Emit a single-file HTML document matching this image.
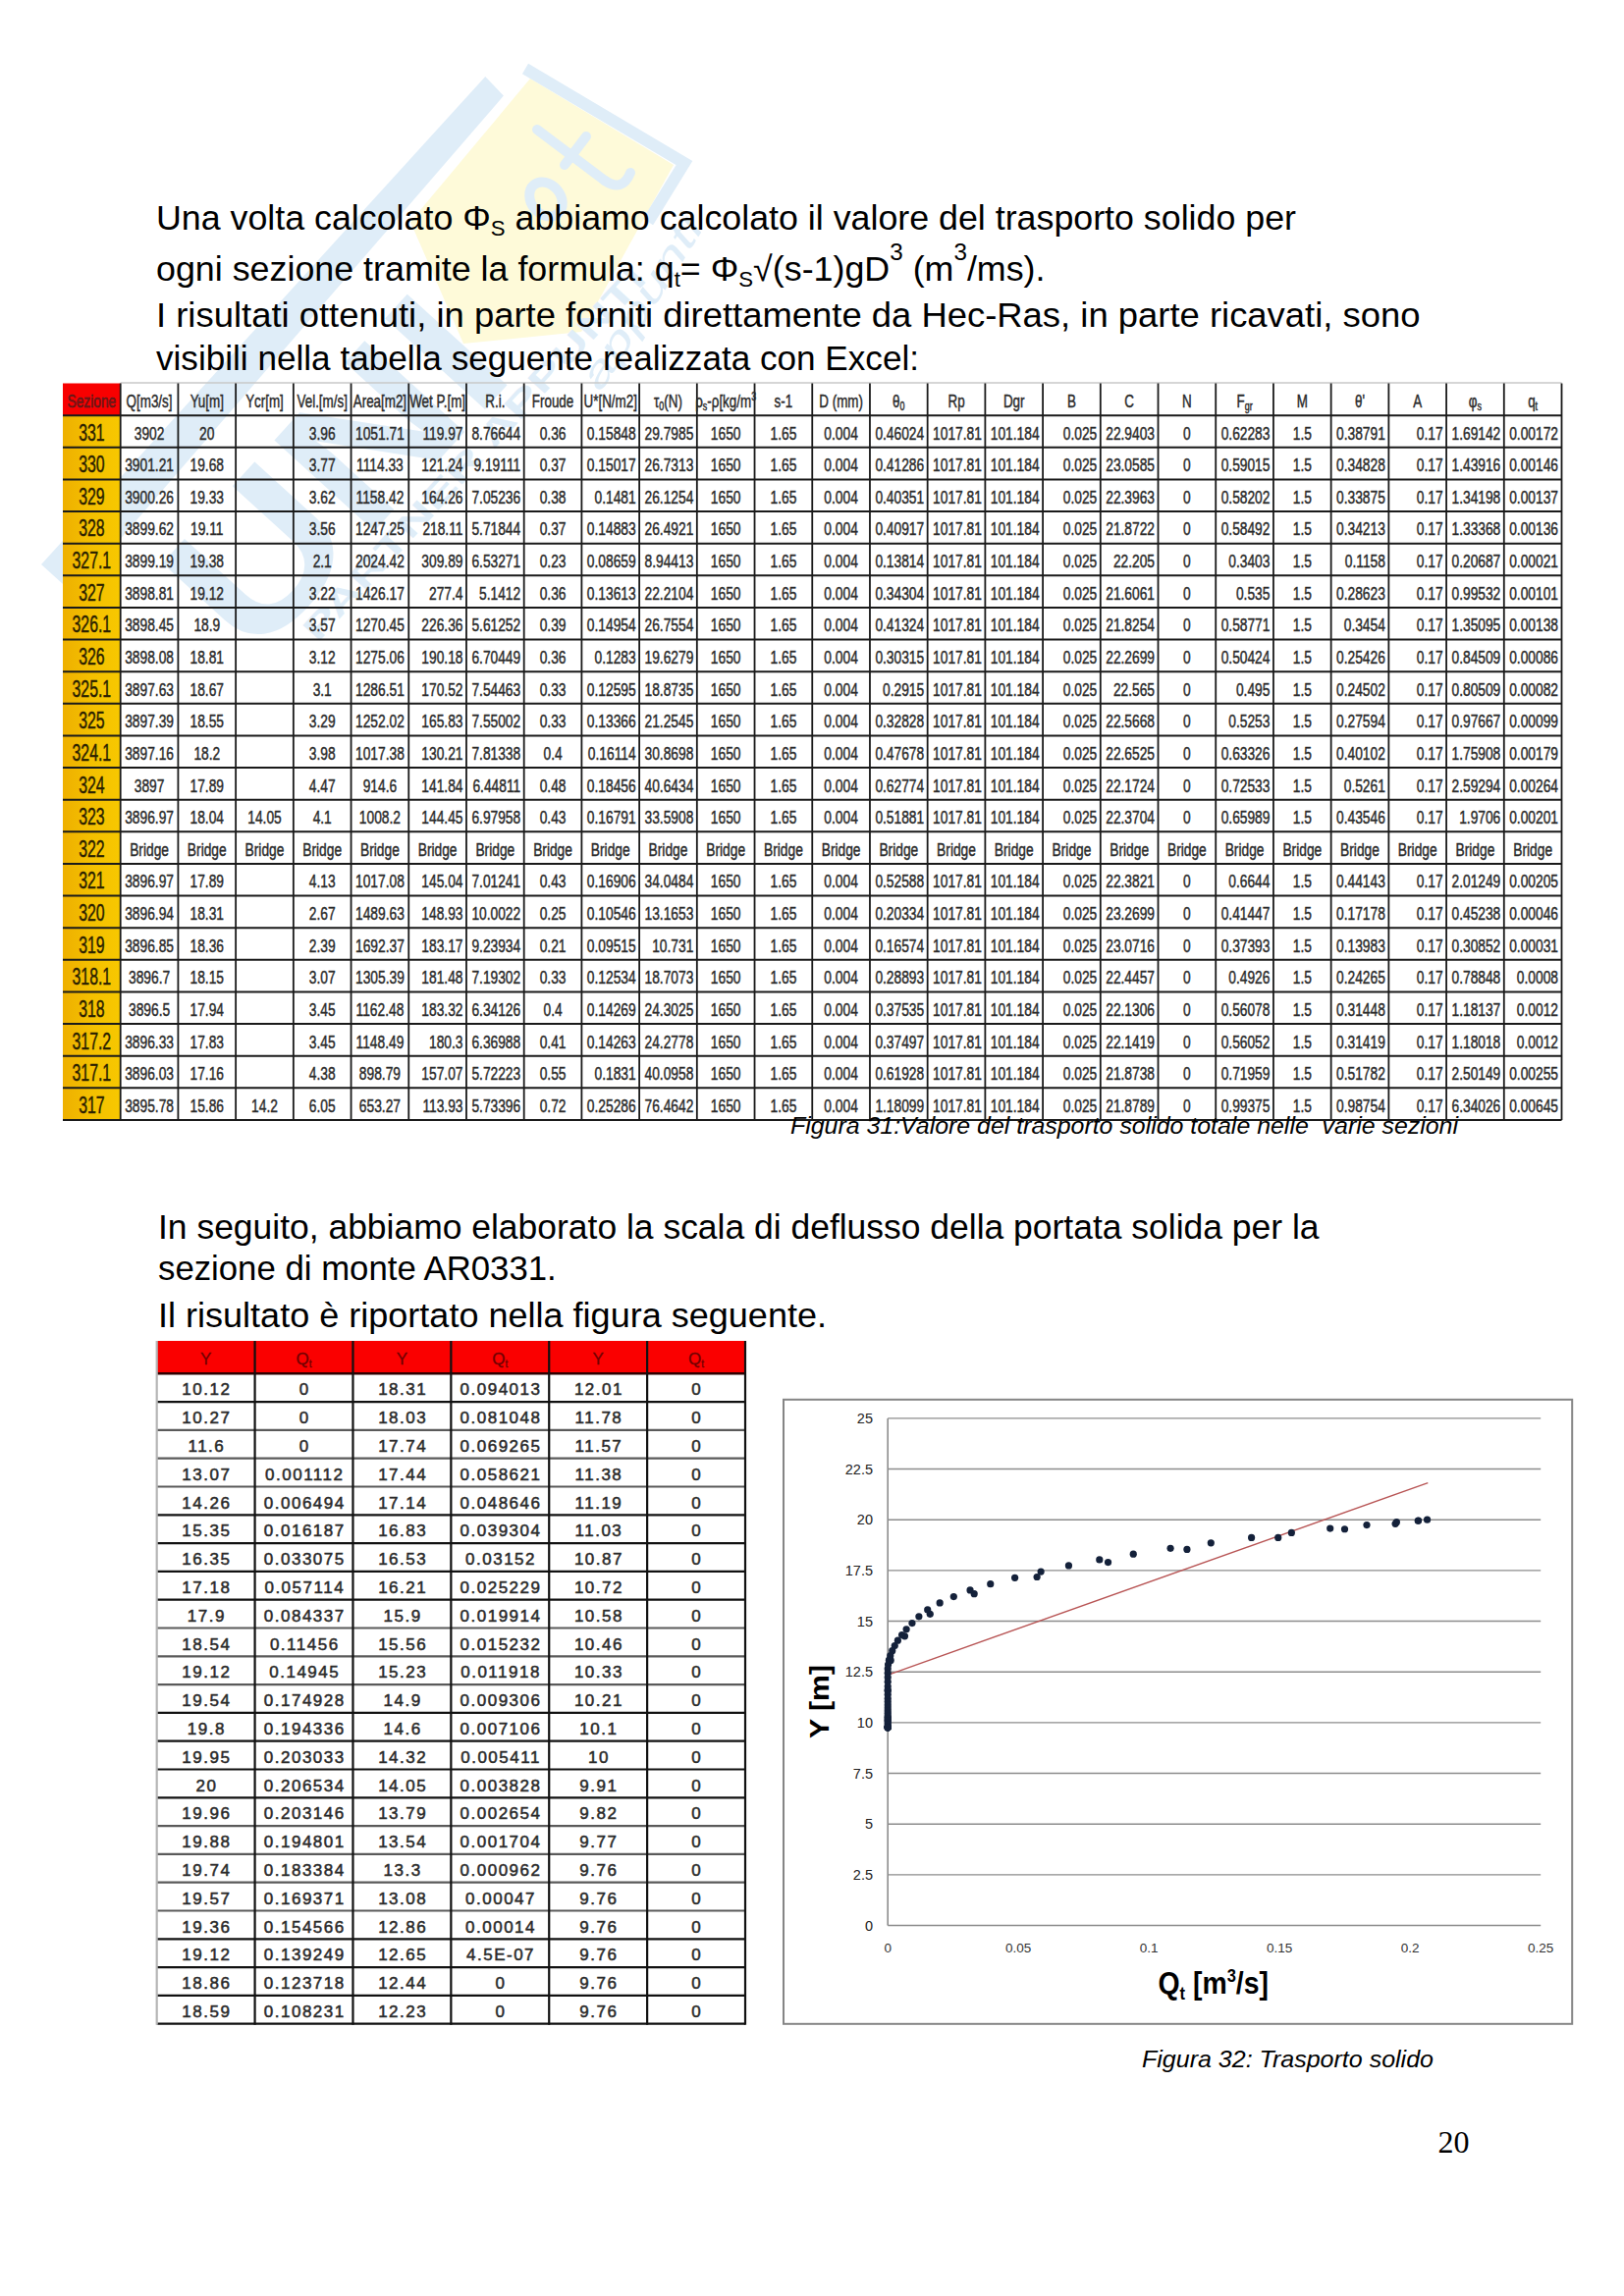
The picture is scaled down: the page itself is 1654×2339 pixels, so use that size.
<!DOCTYPE html><html><head><meta charset="utf-8"><title>page 20</title><style>html,body{margin:0;padding:0;background:#fff;}body{width:1654px;height:2339px;overflow:hidden}svg{display:block}</style></head><body>
<svg width="1654" height="2339" viewBox="0 0 1654 2339" font-family="'Liberation Sans', sans-serif">
<rect width="1654" height="2339" fill="#fff"/>
<g id="wm">
<polygon points="540,80 686,168 592,338 472,350 418,226" fill="#fefad9"/>
<polyline points="535,70 697,166 660,226" fill="none" stroke="#dfedf8" stroke-width="12" stroke-linejoin="miter"/>
<g transform="translate(42,575) rotate(-47.7)">
<polygon points="0,0 672,0 670,27 0,44" fill="#dfedf8"/>
<text x="70" y="228" font-size="200" font-weight="bold" fill="#dfedf8" font-family="'Liberation Sans', sans-serif" textLength="400" lengthAdjust="spacingAndGlyphs">UNI</text>
<text x="130" y="262" font-size="34" font-weight="bold" fill="#dfedf8" font-family="'Liberation Sans', sans-serif" textLength="500" lengthAdjust="spacingAndGlyphs">PARTNER APPUNTI</text>
</g>
<g fill="none" stroke="#dfedf8" stroke-width="10" stroke-linecap="round">
<line x1="547" y1="132" x2="616" y2="184"/>
<line x1="575" y1="168" x2="597" y2="139"/>
<path d="M616,184 Q634,196 642,176"/>
<ellipse cx="556" cy="203" rx="15" ry="19" transform="rotate(-40 556 203)"/>
</g>
<text transform="translate(612,400) rotate(-58)" font-size="40" font-style="italic" fill="#dfedf8" font-family="'Liberation Sans', sans-serif" textLength="200" lengthAdjust="spacingAndGlyphs">appunti</text>
</g>
<g fill="#000" font-family="'Liberation Sans', sans-serif">
<text x="159" y="233.9" font-size="35.5" textLength="1161" lengthAdjust="spacingAndGlyphs" >Una volta calcolato Φ<tspan font-size="22" dy="6">S</tspan><tspan dy="-6"> abbiamo calcolato il valore del trasporto solido per</tspan></text>
<text x="159" y="285.6" font-size="35.5" textLength="905.5" lengthAdjust="spacingAndGlyphs" >ogni sezione tramite la formula: q<tspan font-size="22" dy="6">t</tspan><tspan dy="-6">= Φ</tspan><tspan font-size="22" dy="6">S</tspan><tspan dy="-6">√(s-1)gD</tspan><tspan font-size="24" dy="-21">3</tspan><tspan dy="21">  (m</tspan><tspan font-size="24" dy="-21">3</tspan><tspan dy="21">/ms).</tspan></text>
<text x="159" y="332.9" font-size="35.5" textLength="1287.5" lengthAdjust="spacingAndGlyphs" >I risultati ottenuti, in parte forniti direttamente da Hec-Ras, in parte ricavati, sono</text>
<text x="159" y="376.7" font-size="35.5" textLength="777" lengthAdjust="spacingAndGlyphs" >visibili nella tabella seguente realizzata con Excel:</text>
<text x="161" y="1261.5" font-size="35.5" textLength="1182.5" lengthAdjust="spacingAndGlyphs" >In seguito, abbiamo elaborato la scala di deflusso della portata solida per la</text>
<text x="161" y="1304.4" font-size="35.5" textLength="405.70000000000005" lengthAdjust="spacingAndGlyphs" >sezione di monte AR0331.</text>
<text x="161" y="1351.5" font-size="35.5" textLength="681" lengthAdjust="spacingAndGlyphs" >Il risultato è riportato nella figura seguente.</text>
</g>
<g id="bigtable">
<defs><linearGradient id="yel" x1="0" y1="0" x2="1" y2="0"><stop offset="0" stop-color="#eeb000"/><stop offset="0.5" stop-color="#f4c000"/><stop offset="1" stop-color="#f7c800"/></linearGradient></defs>
<rect x="64.0" y="423.1304347826087" width="58.71153846153846" height="717.8695652173913" fill="url(#yel)"/>
<rect x="64.0" y="390.5" width="58.71153846153846" height="32.630434782608695" fill="#f80000"/>
<line x1="122.71153846153845" y1="390.0" x2="1590.5" y2="390.0" stroke="#c8c8c8" stroke-width="1.5"/>
<line x1="64.0" y1="423.13" x2="1590.5" y2="423.13" stroke="#1a1a1a" stroke-width="2"/>
<line x1="64.0" y1="455.76" x2="1590.5" y2="455.76" stroke="#1a1a1a" stroke-width="2"/>
<line x1="64.0" y1="488.39" x2="1590.5" y2="488.39" stroke="#1a1a1a" stroke-width="2"/>
<line x1="64.0" y1="521.02" x2="1590.5" y2="521.02" stroke="#1a1a1a" stroke-width="2"/>
<line x1="64.0" y1="553.65" x2="1590.5" y2="553.65" stroke="#1a1a1a" stroke-width="2"/>
<line x1="64.0" y1="586.28" x2="1590.5" y2="586.28" stroke="#1a1a1a" stroke-width="2"/>
<line x1="64.0" y1="618.91" x2="1590.5" y2="618.91" stroke="#1a1a1a" stroke-width="2"/>
<line x1="64.0" y1="651.54" x2="1590.5" y2="651.54" stroke="#1a1a1a" stroke-width="2"/>
<line x1="64.0" y1="684.17" x2="1590.5" y2="684.17" stroke="#1a1a1a" stroke-width="2"/>
<line x1="64.0" y1="716.80" x2="1590.5" y2="716.80" stroke="#1a1a1a" stroke-width="2"/>
<line x1="64.0" y1="749.43" x2="1590.5" y2="749.43" stroke="#1a1a1a" stroke-width="2"/>
<line x1="64.0" y1="782.07" x2="1590.5" y2="782.07" stroke="#1a1a1a" stroke-width="2"/>
<line x1="64.0" y1="814.70" x2="1590.5" y2="814.70" stroke="#1a1a1a" stroke-width="2"/>
<line x1="64.0" y1="847.33" x2="1590.5" y2="847.33" stroke="#1a1a1a" stroke-width="2"/>
<line x1="64.0" y1="879.96" x2="1590.5" y2="879.96" stroke="#1a1a1a" stroke-width="2"/>
<line x1="64.0" y1="912.59" x2="1590.5" y2="912.59" stroke="#1a1a1a" stroke-width="2"/>
<line x1="64.0" y1="945.22" x2="1590.5" y2="945.22" stroke="#1a1a1a" stroke-width="2"/>
<line x1="64.0" y1="977.85" x2="1590.5" y2="977.85" stroke="#1a1a1a" stroke-width="2"/>
<line x1="64.0" y1="1010.48" x2="1590.5" y2="1010.48" stroke="#1a1a1a" stroke-width="2"/>
<line x1="64.0" y1="1043.11" x2="1590.5" y2="1043.11" stroke="#1a1a1a" stroke-width="2"/>
<line x1="64.0" y1="1075.74" x2="1590.5" y2="1075.74" stroke="#1a1a1a" stroke-width="2"/>
<line x1="64.0" y1="1108.37" x2="1590.5" y2="1108.37" stroke="#1a1a1a" stroke-width="2"/>
<line x1="64.0" y1="1141.00" x2="1590.5" y2="1141.00" stroke="#1a1a1a" stroke-width="2"/>
<line x1="122.71" y1="390.5" x2="122.71" y2="1141.0" stroke="#1a1a1a" stroke-width="1.8"/>
<line x1="181.42" y1="390.5" x2="181.42" y2="1141.0" stroke="#1a1a1a" stroke-width="1.8"/>
<line x1="240.13" y1="390.5" x2="240.13" y2="1141.0" stroke="#1a1a1a" stroke-width="1.8"/>
<line x1="298.85" y1="390.5" x2="298.85" y2="1141.0" stroke="#1a1a1a" stroke-width="1.8"/>
<line x1="357.56" y1="390.5" x2="357.56" y2="1141.0" stroke="#1a1a1a" stroke-width="1.8"/>
<line x1="416.27" y1="390.5" x2="416.27" y2="1141.0" stroke="#1a1a1a" stroke-width="1.8"/>
<line x1="474.98" y1="390.5" x2="474.98" y2="1141.0" stroke="#1a1a1a" stroke-width="1.8"/>
<line x1="533.69" y1="390.5" x2="533.69" y2="1141.0" stroke="#1a1a1a" stroke-width="1.8"/>
<line x1="592.40" y1="390.5" x2="592.40" y2="1141.0" stroke="#1a1a1a" stroke-width="1.8"/>
<line x1="651.12" y1="390.5" x2="651.12" y2="1141.0" stroke="#1a1a1a" stroke-width="1.8"/>
<line x1="709.83" y1="390.5" x2="709.83" y2="1141.0" stroke="#1a1a1a" stroke-width="1.8"/>
<line x1="768.54" y1="390.5" x2="768.54" y2="1141.0" stroke="#1a1a1a" stroke-width="1.8"/>
<line x1="827.25" y1="390.5" x2="827.25" y2="1141.0" stroke="#1a1a1a" stroke-width="1.8"/>
<line x1="885.96" y1="390.5" x2="885.96" y2="1141.0" stroke="#1a1a1a" stroke-width="1.8"/>
<line x1="944.67" y1="390.5" x2="944.67" y2="1141.0" stroke="#1a1a1a" stroke-width="1.8"/>
<line x1="1003.38" y1="390.5" x2="1003.38" y2="1141.0" stroke="#1a1a1a" stroke-width="1.8"/>
<line x1="1062.10" y1="390.5" x2="1062.10" y2="1141.0" stroke="#1a1a1a" stroke-width="1.8"/>
<line x1="1120.81" y1="390.5" x2="1120.81" y2="1141.0" stroke="#1a1a1a" stroke-width="1.8"/>
<line x1="1179.52" y1="390.5" x2="1179.52" y2="1141.0" stroke="#1a1a1a" stroke-width="1.8"/>
<line x1="1238.23" y1="390.5" x2="1238.23" y2="1141.0" stroke="#1a1a1a" stroke-width="1.8"/>
<line x1="1296.94" y1="390.5" x2="1296.94" y2="1141.0" stroke="#1a1a1a" stroke-width="1.8"/>
<line x1="1355.65" y1="390.5" x2="1355.65" y2="1141.0" stroke="#1a1a1a" stroke-width="1.8"/>
<line x1="1414.37" y1="390.5" x2="1414.37" y2="1141.0" stroke="#1a1a1a" stroke-width="1.8"/>
<line x1="1473.08" y1="390.5" x2="1473.08" y2="1141.0" stroke="#1a1a1a" stroke-width="1.8"/>
<line x1="1531.79" y1="390.5" x2="1531.79" y2="1141.0" stroke="#1a1a1a" stroke-width="1.8"/>
<line x1="1590.50" y1="390.5" x2="1590.50" y2="1141.0" stroke="#1a1a1a" stroke-width="1.8"/>
<g font-family="'Liberation Sans', sans-serif" fill="#2b2b2b" stroke="#2b2b2b" stroke-width="0.45" transform="scale(0.745,1)">
<text x="125.31" y="414.98" font-size="18.5" text-anchor="middle" fill="#8a0a0a">Sezione</text>
<text x="204.12" y="414.80" font-size="18" text-anchor="middle">Q[m3/s]</text>
<text x="282.92" y="414.80" font-size="18" text-anchor="middle">Yu[m]</text>
<text x="361.73" y="414.80" font-size="18" text-anchor="middle">Ycr[m]</text>
<text x="440.54" y="414.80" font-size="18" text-anchor="middle">Vel.[m/s]</text>
<text x="519.35" y="414.80" font-size="18" text-anchor="middle">Area[m2]</text>
<text x="598.15" y="414.80" font-size="18" text-anchor="middle">Wet P.[m]</text>
<text x="676.96" y="414.80" font-size="18" text-anchor="middle">R.i.</text>
<text x="755.77" y="414.80" font-size="18" text-anchor="middle">Froude</text>
<text x="834.58" y="414.80" font-size="18" text-anchor="middle">U*[N/m2]</text>
<text x="913.38" y="414.80" font-size="18" text-anchor="middle">τ<tspan font-size="12" dy="3">0</tspan><tspan dy="-3">(N)</tspan></text>
<text x="992.19" y="414.80" font-size="18" text-anchor="middle">ρ<tspan font-size="12" dy="3">s</tspan><tspan dy="-3">-ρ[kg/m</tspan><tspan font-size="12" dy="-7">3</tspan></text>
<text x="1071.00" y="414.80" font-size="18" text-anchor="middle">s-1</text>
<text x="1149.81" y="414.80" font-size="18" text-anchor="middle">D (mm)</text>
<text x="1228.61" y="414.80" font-size="18" text-anchor="middle">θ<tspan font-size="12" dy="3">0</tspan></text>
<text x="1307.42" y="414.80" font-size="18" text-anchor="middle">Rp</text>
<text x="1386.23" y="414.80" font-size="18" text-anchor="middle">Dgr</text>
<text x="1465.04" y="414.80" font-size="18" text-anchor="middle">B</text>
<text x="1543.84" y="414.80" font-size="18" text-anchor="middle">C</text>
<text x="1622.65" y="414.80" font-size="18" text-anchor="middle">N</text>
<text x="1701.46" y="414.80" font-size="18" text-anchor="middle">F<tspan font-size="12" dy="3">gr</tspan></text>
<text x="1780.27" y="414.80" font-size="18" text-anchor="middle">M</text>
<text x="1859.07" y="414.80" font-size="18" text-anchor="middle">θ'</text>
<text x="1937.88" y="414.80" font-size="18" text-anchor="middle">A</text>
<text x="2016.69" y="414.80" font-size="18" text-anchor="middle">φ<tspan font-size="12" dy="3">s</tspan></text>
<text x="2095.50" y="414.80" font-size="18" text-anchor="middle">q<tspan font-size="12" dy="3">t</tspan></text>
<text x="204.12" y="447.61" font-size="18.5" text-anchor="middle">3902</text>
<text x="282.92" y="447.61" font-size="18.5" text-anchor="middle">20</text>
<text x="440.54" y="447.61" font-size="18.5" text-anchor="middle">3.96</text>
<text x="519.35" y="447.61" font-size="18.5" text-anchor="middle">1051.71</text>
<text x="632.86" y="447.61" font-size="18.5" text-anchor="end">119.97</text>
<text x="711.67" y="447.61" font-size="18.5" text-anchor="end">8.76644</text>
<text x="755.77" y="447.61" font-size="18.5" text-anchor="middle">0.36</text>
<text x="869.28" y="447.61" font-size="18.5" text-anchor="end">0.15848</text>
<text x="948.09" y="447.61" font-size="18.5" text-anchor="end">29.7985</text>
<text x="992.19" y="447.61" font-size="18.5" text-anchor="middle">1650</text>
<text x="1071.00" y="447.61" font-size="18.5" text-anchor="middle">1.65</text>
<text x="1149.81" y="447.61" font-size="18.5" text-anchor="middle">0.004</text>
<text x="1263.32" y="447.61" font-size="18.5" text-anchor="end">0.46024</text>
<text x="1342.13" y="447.61" font-size="18.5" text-anchor="end">1017.81</text>
<text x="1420.93" y="447.61" font-size="18.5" text-anchor="end">101.184</text>
<text x="1499.74" y="447.61" font-size="18.5" text-anchor="end">0.025</text>
<text x="1578.55" y="447.61" font-size="18.5" text-anchor="end">22.9403</text>
<text x="1622.65" y="447.61" font-size="18.5" text-anchor="middle">0</text>
<text x="1736.16" y="447.61" font-size="18.5" text-anchor="end">0.62283</text>
<text x="1780.27" y="447.61" font-size="18.5" text-anchor="middle">1.5</text>
<text x="1893.78" y="447.61" font-size="18.5" text-anchor="end">0.38791</text>
<text x="1972.59" y="447.61" font-size="18.5" text-anchor="end">0.17</text>
<text x="2051.39" y="447.61" font-size="18.5" text-anchor="end">1.69142</text>
<text x="2130.20" y="447.61" font-size="18.5" text-anchor="end">0.00172</text>
<text x="204.12" y="480.24" font-size="18.5" text-anchor="middle">3901.21</text>
<text x="282.92" y="480.24" font-size="18.5" text-anchor="middle">19.68</text>
<text x="440.54" y="480.24" font-size="18.5" text-anchor="middle">3.77</text>
<text x="519.35" y="480.24" font-size="18.5" text-anchor="middle">1114.33</text>
<text x="632.86" y="480.24" font-size="18.5" text-anchor="end">121.24</text>
<text x="711.67" y="480.24" font-size="18.5" text-anchor="end">9.19111</text>
<text x="755.77" y="480.24" font-size="18.5" text-anchor="middle">0.37</text>
<text x="869.28" y="480.24" font-size="18.5" text-anchor="end">0.15017</text>
<text x="948.09" y="480.24" font-size="18.5" text-anchor="end">26.7313</text>
<text x="992.19" y="480.24" font-size="18.5" text-anchor="middle">1650</text>
<text x="1071.00" y="480.24" font-size="18.5" text-anchor="middle">1.65</text>
<text x="1149.81" y="480.24" font-size="18.5" text-anchor="middle">0.004</text>
<text x="1263.32" y="480.24" font-size="18.5" text-anchor="end">0.41286</text>
<text x="1342.13" y="480.24" font-size="18.5" text-anchor="end">1017.81</text>
<text x="1420.93" y="480.24" font-size="18.5" text-anchor="end">101.184</text>
<text x="1499.74" y="480.24" font-size="18.5" text-anchor="end">0.025</text>
<text x="1578.55" y="480.24" font-size="18.5" text-anchor="end">23.0585</text>
<text x="1622.65" y="480.24" font-size="18.5" text-anchor="middle">0</text>
<text x="1736.16" y="480.24" font-size="18.5" text-anchor="end">0.59015</text>
<text x="1780.27" y="480.24" font-size="18.5" text-anchor="middle">1.5</text>
<text x="1893.78" y="480.24" font-size="18.5" text-anchor="end">0.34828</text>
<text x="1972.59" y="480.24" font-size="18.5" text-anchor="end">0.17</text>
<text x="2051.39" y="480.24" font-size="18.5" text-anchor="end">1.43916</text>
<text x="2130.20" y="480.24" font-size="18.5" text-anchor="end">0.00146</text>
<text x="204.12" y="512.87" font-size="18.5" text-anchor="middle">3900.26</text>
<text x="282.92" y="512.87" font-size="18.5" text-anchor="middle">19.33</text>
<text x="440.54" y="512.87" font-size="18.5" text-anchor="middle">3.62</text>
<text x="519.35" y="512.87" font-size="18.5" text-anchor="middle">1158.42</text>
<text x="632.86" y="512.87" font-size="18.5" text-anchor="end">164.26</text>
<text x="711.67" y="512.87" font-size="18.5" text-anchor="end">7.05236</text>
<text x="755.77" y="512.87" font-size="18.5" text-anchor="middle">0.38</text>
<text x="869.28" y="512.87" font-size="18.5" text-anchor="end">0.1481</text>
<text x="948.09" y="512.87" font-size="18.5" text-anchor="end">26.1254</text>
<text x="992.19" y="512.87" font-size="18.5" text-anchor="middle">1650</text>
<text x="1071.00" y="512.87" font-size="18.5" text-anchor="middle">1.65</text>
<text x="1149.81" y="512.87" font-size="18.5" text-anchor="middle">0.004</text>
<text x="1263.32" y="512.87" font-size="18.5" text-anchor="end">0.40351</text>
<text x="1342.13" y="512.87" font-size="18.5" text-anchor="end">1017.81</text>
<text x="1420.93" y="512.87" font-size="18.5" text-anchor="end">101.184</text>
<text x="1499.74" y="512.87" font-size="18.5" text-anchor="end">0.025</text>
<text x="1578.55" y="512.87" font-size="18.5" text-anchor="end">22.3963</text>
<text x="1622.65" y="512.87" font-size="18.5" text-anchor="middle">0</text>
<text x="1736.16" y="512.87" font-size="18.5" text-anchor="end">0.58202</text>
<text x="1780.27" y="512.87" font-size="18.5" text-anchor="middle">1.5</text>
<text x="1893.78" y="512.87" font-size="18.5" text-anchor="end">0.33875</text>
<text x="1972.59" y="512.87" font-size="18.5" text-anchor="end">0.17</text>
<text x="2051.39" y="512.87" font-size="18.5" text-anchor="end">1.34198</text>
<text x="2130.20" y="512.87" font-size="18.5" text-anchor="end">0.00137</text>
<text x="204.12" y="545.50" font-size="18.5" text-anchor="middle">3899.62</text>
<text x="282.92" y="545.50" font-size="18.5" text-anchor="middle">19.11</text>
<text x="440.54" y="545.50" font-size="18.5" text-anchor="middle">3.56</text>
<text x="519.35" y="545.50" font-size="18.5" text-anchor="middle">1247.25</text>
<text x="632.86" y="545.50" font-size="18.5" text-anchor="end">218.11</text>
<text x="711.67" y="545.50" font-size="18.5" text-anchor="end">5.71844</text>
<text x="755.77" y="545.50" font-size="18.5" text-anchor="middle">0.37</text>
<text x="869.28" y="545.50" font-size="18.5" text-anchor="end">0.14883</text>
<text x="948.09" y="545.50" font-size="18.5" text-anchor="end">26.4921</text>
<text x="992.19" y="545.50" font-size="18.5" text-anchor="middle">1650</text>
<text x="1071.00" y="545.50" font-size="18.5" text-anchor="middle">1.65</text>
<text x="1149.81" y="545.50" font-size="18.5" text-anchor="middle">0.004</text>
<text x="1263.32" y="545.50" font-size="18.5" text-anchor="end">0.40917</text>
<text x="1342.13" y="545.50" font-size="18.5" text-anchor="end">1017.81</text>
<text x="1420.93" y="545.50" font-size="18.5" text-anchor="end">101.184</text>
<text x="1499.74" y="545.50" font-size="18.5" text-anchor="end">0.025</text>
<text x="1578.55" y="545.50" font-size="18.5" text-anchor="end">21.8722</text>
<text x="1622.65" y="545.50" font-size="18.5" text-anchor="middle">0</text>
<text x="1736.16" y="545.50" font-size="18.5" text-anchor="end">0.58492</text>
<text x="1780.27" y="545.50" font-size="18.5" text-anchor="middle">1.5</text>
<text x="1893.78" y="545.50" font-size="18.5" text-anchor="end">0.34213</text>
<text x="1972.59" y="545.50" font-size="18.5" text-anchor="end">0.17</text>
<text x="2051.39" y="545.50" font-size="18.5" text-anchor="end">1.33368</text>
<text x="2130.20" y="545.50" font-size="18.5" text-anchor="end">0.00136</text>
<text x="204.12" y="578.13" font-size="18.5" text-anchor="middle">3899.19</text>
<text x="282.92" y="578.13" font-size="18.5" text-anchor="middle">19.38</text>
<text x="440.54" y="578.13" font-size="18.5" text-anchor="middle">2.1</text>
<text x="519.35" y="578.13" font-size="18.5" text-anchor="middle">2024.42</text>
<text x="632.86" y="578.13" font-size="18.5" text-anchor="end">309.89</text>
<text x="711.67" y="578.13" font-size="18.5" text-anchor="end">6.53271</text>
<text x="755.77" y="578.13" font-size="18.5" text-anchor="middle">0.23</text>
<text x="869.28" y="578.13" font-size="18.5" text-anchor="end">0.08659</text>
<text x="948.09" y="578.13" font-size="18.5" text-anchor="end">8.94413</text>
<text x="992.19" y="578.13" font-size="18.5" text-anchor="middle">1650</text>
<text x="1071.00" y="578.13" font-size="18.5" text-anchor="middle">1.65</text>
<text x="1149.81" y="578.13" font-size="18.5" text-anchor="middle">0.004</text>
<text x="1263.32" y="578.13" font-size="18.5" text-anchor="end">0.13814</text>
<text x="1342.13" y="578.13" font-size="18.5" text-anchor="end">1017.81</text>
<text x="1420.93" y="578.13" font-size="18.5" text-anchor="end">101.184</text>
<text x="1499.74" y="578.13" font-size="18.5" text-anchor="end">0.025</text>
<text x="1578.55" y="578.13" font-size="18.5" text-anchor="end">22.205</text>
<text x="1622.65" y="578.13" font-size="18.5" text-anchor="middle">0</text>
<text x="1736.16" y="578.13" font-size="18.5" text-anchor="end">0.3403</text>
<text x="1780.27" y="578.13" font-size="18.5" text-anchor="middle">1.5</text>
<text x="1893.78" y="578.13" font-size="18.5" text-anchor="end">0.1158</text>
<text x="1972.59" y="578.13" font-size="18.5" text-anchor="end">0.17</text>
<text x="2051.39" y="578.13" font-size="18.5" text-anchor="end">0.20687</text>
<text x="2130.20" y="578.13" font-size="18.5" text-anchor="end">0.00021</text>
<text x="204.12" y="610.76" font-size="18.5" text-anchor="middle">3898.81</text>
<text x="282.92" y="610.76" font-size="18.5" text-anchor="middle">19.12</text>
<text x="440.54" y="610.76" font-size="18.5" text-anchor="middle">3.22</text>
<text x="519.35" y="610.76" font-size="18.5" text-anchor="middle">1426.17</text>
<text x="632.86" y="610.76" font-size="18.5" text-anchor="end">277.4</text>
<text x="711.67" y="610.76" font-size="18.5" text-anchor="end">5.1412</text>
<text x="755.77" y="610.76" font-size="18.5" text-anchor="middle">0.36</text>
<text x="869.28" y="610.76" font-size="18.5" text-anchor="end">0.13613</text>
<text x="948.09" y="610.76" font-size="18.5" text-anchor="end">22.2104</text>
<text x="992.19" y="610.76" font-size="18.5" text-anchor="middle">1650</text>
<text x="1071.00" y="610.76" font-size="18.5" text-anchor="middle">1.65</text>
<text x="1149.81" y="610.76" font-size="18.5" text-anchor="middle">0.004</text>
<text x="1263.32" y="610.76" font-size="18.5" text-anchor="end">0.34304</text>
<text x="1342.13" y="610.76" font-size="18.5" text-anchor="end">1017.81</text>
<text x="1420.93" y="610.76" font-size="18.5" text-anchor="end">101.184</text>
<text x="1499.74" y="610.76" font-size="18.5" text-anchor="end">0.025</text>
<text x="1578.55" y="610.76" font-size="18.5" text-anchor="end">21.6061</text>
<text x="1622.65" y="610.76" font-size="18.5" text-anchor="middle">0</text>
<text x="1736.16" y="610.76" font-size="18.5" text-anchor="end">0.535</text>
<text x="1780.27" y="610.76" font-size="18.5" text-anchor="middle">1.5</text>
<text x="1893.78" y="610.76" font-size="18.5" text-anchor="end">0.28623</text>
<text x="1972.59" y="610.76" font-size="18.5" text-anchor="end">0.17</text>
<text x="2051.39" y="610.76" font-size="18.5" text-anchor="end">0.99532</text>
<text x="2130.20" y="610.76" font-size="18.5" text-anchor="end">0.00101</text>
<text x="204.12" y="643.39" font-size="18.5" text-anchor="middle">3898.45</text>
<text x="282.92" y="643.39" font-size="18.5" text-anchor="middle">18.9</text>
<text x="440.54" y="643.39" font-size="18.5" text-anchor="middle">3.57</text>
<text x="519.35" y="643.39" font-size="18.5" text-anchor="middle">1270.45</text>
<text x="632.86" y="643.39" font-size="18.5" text-anchor="end">226.36</text>
<text x="711.67" y="643.39" font-size="18.5" text-anchor="end">5.61252</text>
<text x="755.77" y="643.39" font-size="18.5" text-anchor="middle">0.39</text>
<text x="869.28" y="643.39" font-size="18.5" text-anchor="end">0.14954</text>
<text x="948.09" y="643.39" font-size="18.5" text-anchor="end">26.7554</text>
<text x="992.19" y="643.39" font-size="18.5" text-anchor="middle">1650</text>
<text x="1071.00" y="643.39" font-size="18.5" text-anchor="middle">1.65</text>
<text x="1149.81" y="643.39" font-size="18.5" text-anchor="middle">0.004</text>
<text x="1263.32" y="643.39" font-size="18.5" text-anchor="end">0.41324</text>
<text x="1342.13" y="643.39" font-size="18.5" text-anchor="end">1017.81</text>
<text x="1420.93" y="643.39" font-size="18.5" text-anchor="end">101.184</text>
<text x="1499.74" y="643.39" font-size="18.5" text-anchor="end">0.025</text>
<text x="1578.55" y="643.39" font-size="18.5" text-anchor="end">21.8254</text>
<text x="1622.65" y="643.39" font-size="18.5" text-anchor="middle">0</text>
<text x="1736.16" y="643.39" font-size="18.5" text-anchor="end">0.58771</text>
<text x="1780.27" y="643.39" font-size="18.5" text-anchor="middle">1.5</text>
<text x="1893.78" y="643.39" font-size="18.5" text-anchor="end">0.3454</text>
<text x="1972.59" y="643.39" font-size="18.5" text-anchor="end">0.17</text>
<text x="2051.39" y="643.39" font-size="18.5" text-anchor="end">1.35095</text>
<text x="2130.20" y="643.39" font-size="18.5" text-anchor="end">0.00138</text>
<text x="204.12" y="676.02" font-size="18.5" text-anchor="middle">3898.08</text>
<text x="282.92" y="676.02" font-size="18.5" text-anchor="middle">18.81</text>
<text x="440.54" y="676.02" font-size="18.5" text-anchor="middle">3.12</text>
<text x="519.35" y="676.02" font-size="18.5" text-anchor="middle">1275.06</text>
<text x="632.86" y="676.02" font-size="18.5" text-anchor="end">190.18</text>
<text x="711.67" y="676.02" font-size="18.5" text-anchor="end">6.70449</text>
<text x="755.77" y="676.02" font-size="18.5" text-anchor="middle">0.36</text>
<text x="869.28" y="676.02" font-size="18.5" text-anchor="end">0.1283</text>
<text x="948.09" y="676.02" font-size="18.5" text-anchor="end">19.6279</text>
<text x="992.19" y="676.02" font-size="18.5" text-anchor="middle">1650</text>
<text x="1071.00" y="676.02" font-size="18.5" text-anchor="middle">1.65</text>
<text x="1149.81" y="676.02" font-size="18.5" text-anchor="middle">0.004</text>
<text x="1263.32" y="676.02" font-size="18.5" text-anchor="end">0.30315</text>
<text x="1342.13" y="676.02" font-size="18.5" text-anchor="end">1017.81</text>
<text x="1420.93" y="676.02" font-size="18.5" text-anchor="end">101.184</text>
<text x="1499.74" y="676.02" font-size="18.5" text-anchor="end">0.025</text>
<text x="1578.55" y="676.02" font-size="18.5" text-anchor="end">22.2699</text>
<text x="1622.65" y="676.02" font-size="18.5" text-anchor="middle">0</text>
<text x="1736.16" y="676.02" font-size="18.5" text-anchor="end">0.50424</text>
<text x="1780.27" y="676.02" font-size="18.5" text-anchor="middle">1.5</text>
<text x="1893.78" y="676.02" font-size="18.5" text-anchor="end">0.25426</text>
<text x="1972.59" y="676.02" font-size="18.5" text-anchor="end">0.17</text>
<text x="2051.39" y="676.02" font-size="18.5" text-anchor="end">0.84509</text>
<text x="2130.20" y="676.02" font-size="18.5" text-anchor="end">0.00086</text>
<text x="204.12" y="708.65" font-size="18.5" text-anchor="middle">3897.63</text>
<text x="282.92" y="708.65" font-size="18.5" text-anchor="middle">18.67</text>
<text x="440.54" y="708.65" font-size="18.5" text-anchor="middle">3.1</text>
<text x="519.35" y="708.65" font-size="18.5" text-anchor="middle">1286.51</text>
<text x="632.86" y="708.65" font-size="18.5" text-anchor="end">170.52</text>
<text x="711.67" y="708.65" font-size="18.5" text-anchor="end">7.54463</text>
<text x="755.77" y="708.65" font-size="18.5" text-anchor="middle">0.33</text>
<text x="869.28" y="708.65" font-size="18.5" text-anchor="end">0.12595</text>
<text x="948.09" y="708.65" font-size="18.5" text-anchor="end">18.8735</text>
<text x="992.19" y="708.65" font-size="18.5" text-anchor="middle">1650</text>
<text x="1071.00" y="708.65" font-size="18.5" text-anchor="middle">1.65</text>
<text x="1149.81" y="708.65" font-size="18.5" text-anchor="middle">0.004</text>
<text x="1263.32" y="708.65" font-size="18.5" text-anchor="end">0.2915</text>
<text x="1342.13" y="708.65" font-size="18.5" text-anchor="end">1017.81</text>
<text x="1420.93" y="708.65" font-size="18.5" text-anchor="end">101.184</text>
<text x="1499.74" y="708.65" font-size="18.5" text-anchor="end">0.025</text>
<text x="1578.55" y="708.65" font-size="18.5" text-anchor="end">22.565</text>
<text x="1622.65" y="708.65" font-size="18.5" text-anchor="middle">0</text>
<text x="1736.16" y="708.65" font-size="18.5" text-anchor="end">0.495</text>
<text x="1780.27" y="708.65" font-size="18.5" text-anchor="middle">1.5</text>
<text x="1893.78" y="708.65" font-size="18.5" text-anchor="end">0.24502</text>
<text x="1972.59" y="708.65" font-size="18.5" text-anchor="end">0.17</text>
<text x="2051.39" y="708.65" font-size="18.5" text-anchor="end">0.80509</text>
<text x="2130.20" y="708.65" font-size="18.5" text-anchor="end">0.00082</text>
<text x="204.12" y="741.28" font-size="18.5" text-anchor="middle">3897.39</text>
<text x="282.92" y="741.28" font-size="18.5" text-anchor="middle">18.55</text>
<text x="440.54" y="741.28" font-size="18.5" text-anchor="middle">3.29</text>
<text x="519.35" y="741.28" font-size="18.5" text-anchor="middle">1252.02</text>
<text x="632.86" y="741.28" font-size="18.5" text-anchor="end">165.83</text>
<text x="711.67" y="741.28" font-size="18.5" text-anchor="end">7.55002</text>
<text x="755.77" y="741.28" font-size="18.5" text-anchor="middle">0.33</text>
<text x="869.28" y="741.28" font-size="18.5" text-anchor="end">0.13366</text>
<text x="948.09" y="741.28" font-size="18.5" text-anchor="end">21.2545</text>
<text x="992.19" y="741.28" font-size="18.5" text-anchor="middle">1650</text>
<text x="1071.00" y="741.28" font-size="18.5" text-anchor="middle">1.65</text>
<text x="1149.81" y="741.28" font-size="18.5" text-anchor="middle">0.004</text>
<text x="1263.32" y="741.28" font-size="18.5" text-anchor="end">0.32828</text>
<text x="1342.13" y="741.28" font-size="18.5" text-anchor="end">1017.81</text>
<text x="1420.93" y="741.28" font-size="18.5" text-anchor="end">101.184</text>
<text x="1499.74" y="741.28" font-size="18.5" text-anchor="end">0.025</text>
<text x="1578.55" y="741.28" font-size="18.5" text-anchor="end">22.5668</text>
<text x="1622.65" y="741.28" font-size="18.5" text-anchor="middle">0</text>
<text x="1736.16" y="741.28" font-size="18.5" text-anchor="end">0.5253</text>
<text x="1780.27" y="741.28" font-size="18.5" text-anchor="middle">1.5</text>
<text x="1893.78" y="741.28" font-size="18.5" text-anchor="end">0.27594</text>
<text x="1972.59" y="741.28" font-size="18.5" text-anchor="end">0.17</text>
<text x="2051.39" y="741.28" font-size="18.5" text-anchor="end">0.97667</text>
<text x="2130.20" y="741.28" font-size="18.5" text-anchor="end">0.00099</text>
<text x="204.12" y="773.91" font-size="18.5" text-anchor="middle">3897.16</text>
<text x="282.92" y="773.91" font-size="18.5" text-anchor="middle">18.2</text>
<text x="440.54" y="773.91" font-size="18.5" text-anchor="middle">3.98</text>
<text x="519.35" y="773.91" font-size="18.5" text-anchor="middle">1017.38</text>
<text x="632.86" y="773.91" font-size="18.5" text-anchor="end">130.21</text>
<text x="711.67" y="773.91" font-size="18.5" text-anchor="end">7.81338</text>
<text x="755.77" y="773.91" font-size="18.5" text-anchor="middle">0.4</text>
<text x="869.28" y="773.91" font-size="18.5" text-anchor="end">0.16114</text>
<text x="948.09" y="773.91" font-size="18.5" text-anchor="end">30.8698</text>
<text x="992.19" y="773.91" font-size="18.5" text-anchor="middle">1650</text>
<text x="1071.00" y="773.91" font-size="18.5" text-anchor="middle">1.65</text>
<text x="1149.81" y="773.91" font-size="18.5" text-anchor="middle">0.004</text>
<text x="1263.32" y="773.91" font-size="18.5" text-anchor="end">0.47678</text>
<text x="1342.13" y="773.91" font-size="18.5" text-anchor="end">1017.81</text>
<text x="1420.93" y="773.91" font-size="18.5" text-anchor="end">101.184</text>
<text x="1499.74" y="773.91" font-size="18.5" text-anchor="end">0.025</text>
<text x="1578.55" y="773.91" font-size="18.5" text-anchor="end">22.6525</text>
<text x="1622.65" y="773.91" font-size="18.5" text-anchor="middle">0</text>
<text x="1736.16" y="773.91" font-size="18.5" text-anchor="end">0.63326</text>
<text x="1780.27" y="773.91" font-size="18.5" text-anchor="middle">1.5</text>
<text x="1893.78" y="773.91" font-size="18.5" text-anchor="end">0.40102</text>
<text x="1972.59" y="773.91" font-size="18.5" text-anchor="end">0.17</text>
<text x="2051.39" y="773.91" font-size="18.5" text-anchor="end">1.75908</text>
<text x="2130.20" y="773.91" font-size="18.5" text-anchor="end">0.00179</text>
<text x="204.12" y="806.54" font-size="18.5" text-anchor="middle">3897</text>
<text x="282.92" y="806.54" font-size="18.5" text-anchor="middle">17.89</text>
<text x="440.54" y="806.54" font-size="18.5" text-anchor="middle">4.47</text>
<text x="519.35" y="806.54" font-size="18.5" text-anchor="middle">914.6</text>
<text x="632.86" y="806.54" font-size="18.5" text-anchor="end">141.84</text>
<text x="711.67" y="806.54" font-size="18.5" text-anchor="end">6.44811</text>
<text x="755.77" y="806.54" font-size="18.5" text-anchor="middle">0.48</text>
<text x="869.28" y="806.54" font-size="18.5" text-anchor="end">0.18456</text>
<text x="948.09" y="806.54" font-size="18.5" text-anchor="end">40.6434</text>
<text x="992.19" y="806.54" font-size="18.5" text-anchor="middle">1650</text>
<text x="1071.00" y="806.54" font-size="18.5" text-anchor="middle">1.65</text>
<text x="1149.81" y="806.54" font-size="18.5" text-anchor="middle">0.004</text>
<text x="1263.32" y="806.54" font-size="18.5" text-anchor="end">0.62774</text>
<text x="1342.13" y="806.54" font-size="18.5" text-anchor="end">1017.81</text>
<text x="1420.93" y="806.54" font-size="18.5" text-anchor="end">101.184</text>
<text x="1499.74" y="806.54" font-size="18.5" text-anchor="end">0.025</text>
<text x="1578.55" y="806.54" font-size="18.5" text-anchor="end">22.1724</text>
<text x="1622.65" y="806.54" font-size="18.5" text-anchor="middle">0</text>
<text x="1736.16" y="806.54" font-size="18.5" text-anchor="end">0.72533</text>
<text x="1780.27" y="806.54" font-size="18.5" text-anchor="middle">1.5</text>
<text x="1893.78" y="806.54" font-size="18.5" text-anchor="end">0.5261</text>
<text x="1972.59" y="806.54" font-size="18.5" text-anchor="end">0.17</text>
<text x="2051.39" y="806.54" font-size="18.5" text-anchor="end">2.59294</text>
<text x="2130.20" y="806.54" font-size="18.5" text-anchor="end">0.00264</text>
<text x="204.12" y="839.17" font-size="18.5" text-anchor="middle">3896.97</text>
<text x="282.92" y="839.17" font-size="18.5" text-anchor="middle">18.04</text>
<text x="361.73" y="839.17" font-size="18.5" text-anchor="middle">14.05</text>
<text x="440.54" y="839.17" font-size="18.5" text-anchor="middle">4.1</text>
<text x="519.35" y="839.17" font-size="18.5" text-anchor="middle">1008.2</text>
<text x="632.86" y="839.17" font-size="18.5" text-anchor="end">144.45</text>
<text x="711.67" y="839.17" font-size="18.5" text-anchor="end">6.97958</text>
<text x="755.77" y="839.17" font-size="18.5" text-anchor="middle">0.43</text>
<text x="869.28" y="839.17" font-size="18.5" text-anchor="end">0.16791</text>
<text x="948.09" y="839.17" font-size="18.5" text-anchor="end">33.5908</text>
<text x="992.19" y="839.17" font-size="18.5" text-anchor="middle">1650</text>
<text x="1071.00" y="839.17" font-size="18.5" text-anchor="middle">1.65</text>
<text x="1149.81" y="839.17" font-size="18.5" text-anchor="middle">0.004</text>
<text x="1263.32" y="839.17" font-size="18.5" text-anchor="end">0.51881</text>
<text x="1342.13" y="839.17" font-size="18.5" text-anchor="end">1017.81</text>
<text x="1420.93" y="839.17" font-size="18.5" text-anchor="end">101.184</text>
<text x="1499.74" y="839.17" font-size="18.5" text-anchor="end">0.025</text>
<text x="1578.55" y="839.17" font-size="18.5" text-anchor="end">22.3704</text>
<text x="1622.65" y="839.17" font-size="18.5" text-anchor="middle">0</text>
<text x="1736.16" y="839.17" font-size="18.5" text-anchor="end">0.65989</text>
<text x="1780.27" y="839.17" font-size="18.5" text-anchor="middle">1.5</text>
<text x="1893.78" y="839.17" font-size="18.5" text-anchor="end">0.43546</text>
<text x="1972.59" y="839.17" font-size="18.5" text-anchor="end">0.17</text>
<text x="2051.39" y="839.17" font-size="18.5" text-anchor="end">1.9706</text>
<text x="2130.20" y="839.17" font-size="18.5" text-anchor="end">0.00201</text>
<text x="204.12" y="871.80" font-size="18.5" text-anchor="middle">Bridge</text>
<text x="282.92" y="871.80" font-size="18.5" text-anchor="middle">Bridge</text>
<text x="361.73" y="871.80" font-size="18.5" text-anchor="middle">Bridge</text>
<text x="440.54" y="871.80" font-size="18.5" text-anchor="middle">Bridge</text>
<text x="519.35" y="871.80" font-size="18.5" text-anchor="middle">Bridge</text>
<text x="598.15" y="871.80" font-size="18.5" text-anchor="middle">Bridge</text>
<text x="676.96" y="871.80" font-size="18.5" text-anchor="middle">Bridge</text>
<text x="755.77" y="871.80" font-size="18.5" text-anchor="middle">Bridge</text>
<text x="834.58" y="871.80" font-size="18.5" text-anchor="middle">Bridge</text>
<text x="913.38" y="871.80" font-size="18.5" text-anchor="middle">Bridge</text>
<text x="992.19" y="871.80" font-size="18.5" text-anchor="middle">Bridge</text>
<text x="1071.00" y="871.80" font-size="18.5" text-anchor="middle">Bridge</text>
<text x="1149.81" y="871.80" font-size="18.5" text-anchor="middle">Bridge</text>
<text x="1228.61" y="871.80" font-size="18.5" text-anchor="middle">Bridge</text>
<text x="1307.42" y="871.80" font-size="18.5" text-anchor="middle">Bridge</text>
<text x="1386.23" y="871.80" font-size="18.5" text-anchor="middle">Bridge</text>
<text x="1465.04" y="871.80" font-size="18.5" text-anchor="middle">Bridge</text>
<text x="1543.84" y="871.80" font-size="18.5" text-anchor="middle">Bridge</text>
<text x="1622.65" y="871.80" font-size="18.5" text-anchor="middle">Bridge</text>
<text x="1701.46" y="871.80" font-size="18.5" text-anchor="middle">Bridge</text>
<text x="1780.27" y="871.80" font-size="18.5" text-anchor="middle">Bridge</text>
<text x="1859.07" y="871.80" font-size="18.5" text-anchor="middle">Bridge</text>
<text x="1937.88" y="871.80" font-size="18.5" text-anchor="middle">Bridge</text>
<text x="2016.69" y="871.80" font-size="18.5" text-anchor="middle">Bridge</text>
<text x="2095.50" y="871.80" font-size="18.5" text-anchor="middle">Bridge</text>
<text x="204.12" y="904.43" font-size="18.5" text-anchor="middle">3896.97</text>
<text x="282.92" y="904.43" font-size="18.5" text-anchor="middle">17.89</text>
<text x="440.54" y="904.43" font-size="18.5" text-anchor="middle">4.13</text>
<text x="519.35" y="904.43" font-size="18.5" text-anchor="middle">1017.08</text>
<text x="632.86" y="904.43" font-size="18.5" text-anchor="end">145.04</text>
<text x="711.67" y="904.43" font-size="18.5" text-anchor="end">7.01241</text>
<text x="755.77" y="904.43" font-size="18.5" text-anchor="middle">0.43</text>
<text x="869.28" y="904.43" font-size="18.5" text-anchor="end">0.16906</text>
<text x="948.09" y="904.43" font-size="18.5" text-anchor="end">34.0484</text>
<text x="992.19" y="904.43" font-size="18.5" text-anchor="middle">1650</text>
<text x="1071.00" y="904.43" font-size="18.5" text-anchor="middle">1.65</text>
<text x="1149.81" y="904.43" font-size="18.5" text-anchor="middle">0.004</text>
<text x="1263.32" y="904.43" font-size="18.5" text-anchor="end">0.52588</text>
<text x="1342.13" y="904.43" font-size="18.5" text-anchor="end">1017.81</text>
<text x="1420.93" y="904.43" font-size="18.5" text-anchor="end">101.184</text>
<text x="1499.74" y="904.43" font-size="18.5" text-anchor="end">0.025</text>
<text x="1578.55" y="904.43" font-size="18.5" text-anchor="end">22.3821</text>
<text x="1622.65" y="904.43" font-size="18.5" text-anchor="middle">0</text>
<text x="1736.16" y="904.43" font-size="18.5" text-anchor="end">0.6644</text>
<text x="1780.27" y="904.43" font-size="18.5" text-anchor="middle">1.5</text>
<text x="1893.78" y="904.43" font-size="18.5" text-anchor="end">0.44143</text>
<text x="1972.59" y="904.43" font-size="18.5" text-anchor="end">0.17</text>
<text x="2051.39" y="904.43" font-size="18.5" text-anchor="end">2.01249</text>
<text x="2130.20" y="904.43" font-size="18.5" text-anchor="end">0.00205</text>
<text x="204.12" y="937.06" font-size="18.5" text-anchor="middle">3896.94</text>
<text x="282.92" y="937.06" font-size="18.5" text-anchor="middle">18.31</text>
<text x="440.54" y="937.06" font-size="18.5" text-anchor="middle">2.67</text>
<text x="519.35" y="937.06" font-size="18.5" text-anchor="middle">1489.63</text>
<text x="632.86" y="937.06" font-size="18.5" text-anchor="end">148.93</text>
<text x="711.67" y="937.06" font-size="18.5" text-anchor="end">10.0022</text>
<text x="755.77" y="937.06" font-size="18.5" text-anchor="middle">0.25</text>
<text x="869.28" y="937.06" font-size="18.5" text-anchor="end">0.10546</text>
<text x="948.09" y="937.06" font-size="18.5" text-anchor="end">13.1653</text>
<text x="992.19" y="937.06" font-size="18.5" text-anchor="middle">1650</text>
<text x="1071.00" y="937.06" font-size="18.5" text-anchor="middle">1.65</text>
<text x="1149.81" y="937.06" font-size="18.5" text-anchor="middle">0.004</text>
<text x="1263.32" y="937.06" font-size="18.5" text-anchor="end">0.20334</text>
<text x="1342.13" y="937.06" font-size="18.5" text-anchor="end">1017.81</text>
<text x="1420.93" y="937.06" font-size="18.5" text-anchor="end">101.184</text>
<text x="1499.74" y="937.06" font-size="18.5" text-anchor="end">0.025</text>
<text x="1578.55" y="937.06" font-size="18.5" text-anchor="end">23.2699</text>
<text x="1622.65" y="937.06" font-size="18.5" text-anchor="middle">0</text>
<text x="1736.16" y="937.06" font-size="18.5" text-anchor="end">0.41447</text>
<text x="1780.27" y="937.06" font-size="18.5" text-anchor="middle">1.5</text>
<text x="1893.78" y="937.06" font-size="18.5" text-anchor="end">0.17178</text>
<text x="1972.59" y="937.06" font-size="18.5" text-anchor="end">0.17</text>
<text x="2051.39" y="937.06" font-size="18.5" text-anchor="end">0.45238</text>
<text x="2130.20" y="937.06" font-size="18.5" text-anchor="end">0.00046</text>
<text x="204.12" y="969.69" font-size="18.5" text-anchor="middle">3896.85</text>
<text x="282.92" y="969.69" font-size="18.5" text-anchor="middle">18.36</text>
<text x="440.54" y="969.69" font-size="18.5" text-anchor="middle">2.39</text>
<text x="519.35" y="969.69" font-size="18.5" text-anchor="middle">1692.37</text>
<text x="632.86" y="969.69" font-size="18.5" text-anchor="end">183.17</text>
<text x="711.67" y="969.69" font-size="18.5" text-anchor="end">9.23934</text>
<text x="755.77" y="969.69" font-size="18.5" text-anchor="middle">0.21</text>
<text x="869.28" y="969.69" font-size="18.5" text-anchor="end">0.09515</text>
<text x="948.09" y="969.69" font-size="18.5" text-anchor="end">10.731</text>
<text x="992.19" y="969.69" font-size="18.5" text-anchor="middle">1650</text>
<text x="1071.00" y="969.69" font-size="18.5" text-anchor="middle">1.65</text>
<text x="1149.81" y="969.69" font-size="18.5" text-anchor="middle">0.004</text>
<text x="1263.32" y="969.69" font-size="18.5" text-anchor="end">0.16574</text>
<text x="1342.13" y="969.69" font-size="18.5" text-anchor="end">1017.81</text>
<text x="1420.93" y="969.69" font-size="18.5" text-anchor="end">101.184</text>
<text x="1499.74" y="969.69" font-size="18.5" text-anchor="end">0.025</text>
<text x="1578.55" y="969.69" font-size="18.5" text-anchor="end">23.0716</text>
<text x="1622.65" y="969.69" font-size="18.5" text-anchor="middle">0</text>
<text x="1736.16" y="969.69" font-size="18.5" text-anchor="end">0.37393</text>
<text x="1780.27" y="969.69" font-size="18.5" text-anchor="middle">1.5</text>
<text x="1893.78" y="969.69" font-size="18.5" text-anchor="end">0.13983</text>
<text x="1972.59" y="969.69" font-size="18.5" text-anchor="end">0.17</text>
<text x="2051.39" y="969.69" font-size="18.5" text-anchor="end">0.30852</text>
<text x="2130.20" y="969.69" font-size="18.5" text-anchor="end">0.00031</text>
<text x="204.12" y="1002.32" font-size="18.5" text-anchor="middle">3896.7</text>
<text x="282.92" y="1002.32" font-size="18.5" text-anchor="middle">18.15</text>
<text x="440.54" y="1002.32" font-size="18.5" text-anchor="middle">3.07</text>
<text x="519.35" y="1002.32" font-size="18.5" text-anchor="middle">1305.39</text>
<text x="632.86" y="1002.32" font-size="18.5" text-anchor="end">181.48</text>
<text x="711.67" y="1002.32" font-size="18.5" text-anchor="end">7.19302</text>
<text x="755.77" y="1002.32" font-size="18.5" text-anchor="middle">0.33</text>
<text x="869.28" y="1002.32" font-size="18.5" text-anchor="end">0.12534</text>
<text x="948.09" y="1002.32" font-size="18.5" text-anchor="end">18.7073</text>
<text x="992.19" y="1002.32" font-size="18.5" text-anchor="middle">1650</text>
<text x="1071.00" y="1002.32" font-size="18.5" text-anchor="middle">1.65</text>
<text x="1149.81" y="1002.32" font-size="18.5" text-anchor="middle">0.004</text>
<text x="1263.32" y="1002.32" font-size="18.5" text-anchor="end">0.28893</text>
<text x="1342.13" y="1002.32" font-size="18.5" text-anchor="end">1017.81</text>
<text x="1420.93" y="1002.32" font-size="18.5" text-anchor="end">101.184</text>
<text x="1499.74" y="1002.32" font-size="18.5" text-anchor="end">0.025</text>
<text x="1578.55" y="1002.32" font-size="18.5" text-anchor="end">22.4457</text>
<text x="1622.65" y="1002.32" font-size="18.5" text-anchor="middle">0</text>
<text x="1736.16" y="1002.32" font-size="18.5" text-anchor="end">0.4926</text>
<text x="1780.27" y="1002.32" font-size="18.5" text-anchor="middle">1.5</text>
<text x="1893.78" y="1002.32" font-size="18.5" text-anchor="end">0.24265</text>
<text x="1972.59" y="1002.32" font-size="18.5" text-anchor="end">0.17</text>
<text x="2051.39" y="1002.32" font-size="18.5" text-anchor="end">0.78848</text>
<text x="2130.20" y="1002.32" font-size="18.5" text-anchor="end">0.0008</text>
<text x="204.12" y="1034.95" font-size="18.5" text-anchor="middle">3896.5</text>
<text x="282.92" y="1034.95" font-size="18.5" text-anchor="middle">17.94</text>
<text x="440.54" y="1034.95" font-size="18.5" text-anchor="middle">3.45</text>
<text x="519.35" y="1034.95" font-size="18.5" text-anchor="middle">1162.48</text>
<text x="632.86" y="1034.95" font-size="18.5" text-anchor="end">183.32</text>
<text x="711.67" y="1034.95" font-size="18.5" text-anchor="end">6.34126</text>
<text x="755.77" y="1034.95" font-size="18.5" text-anchor="middle">0.4</text>
<text x="869.28" y="1034.95" font-size="18.5" text-anchor="end">0.14269</text>
<text x="948.09" y="1034.95" font-size="18.5" text-anchor="end">24.3025</text>
<text x="992.19" y="1034.95" font-size="18.5" text-anchor="middle">1650</text>
<text x="1071.00" y="1034.95" font-size="18.5" text-anchor="middle">1.65</text>
<text x="1149.81" y="1034.95" font-size="18.5" text-anchor="middle">0.004</text>
<text x="1263.32" y="1034.95" font-size="18.5" text-anchor="end">0.37535</text>
<text x="1342.13" y="1034.95" font-size="18.5" text-anchor="end">1017.81</text>
<text x="1420.93" y="1034.95" font-size="18.5" text-anchor="end">101.184</text>
<text x="1499.74" y="1034.95" font-size="18.5" text-anchor="end">0.025</text>
<text x="1578.55" y="1034.95" font-size="18.5" text-anchor="end">22.1306</text>
<text x="1622.65" y="1034.95" font-size="18.5" text-anchor="middle">0</text>
<text x="1736.16" y="1034.95" font-size="18.5" text-anchor="end">0.56078</text>
<text x="1780.27" y="1034.95" font-size="18.5" text-anchor="middle">1.5</text>
<text x="1893.78" y="1034.95" font-size="18.5" text-anchor="end">0.31448</text>
<text x="1972.59" y="1034.95" font-size="18.5" text-anchor="end">0.17</text>
<text x="2051.39" y="1034.95" font-size="18.5" text-anchor="end">1.18137</text>
<text x="2130.20" y="1034.95" font-size="18.5" text-anchor="end">0.0012</text>
<text x="204.12" y="1067.58" font-size="18.5" text-anchor="middle">3896.33</text>
<text x="282.92" y="1067.58" font-size="18.5" text-anchor="middle">17.83</text>
<text x="440.54" y="1067.58" font-size="18.5" text-anchor="middle">3.45</text>
<text x="519.35" y="1067.58" font-size="18.5" text-anchor="middle">1148.49</text>
<text x="632.86" y="1067.58" font-size="18.5" text-anchor="end">180.3</text>
<text x="711.67" y="1067.58" font-size="18.5" text-anchor="end">6.36988</text>
<text x="755.77" y="1067.58" font-size="18.5" text-anchor="middle">0.41</text>
<text x="869.28" y="1067.58" font-size="18.5" text-anchor="end">0.14263</text>
<text x="948.09" y="1067.58" font-size="18.5" text-anchor="end">24.2778</text>
<text x="992.19" y="1067.58" font-size="18.5" text-anchor="middle">1650</text>
<text x="1071.00" y="1067.58" font-size="18.5" text-anchor="middle">1.65</text>
<text x="1149.81" y="1067.58" font-size="18.5" text-anchor="middle">0.004</text>
<text x="1263.32" y="1067.58" font-size="18.5" text-anchor="end">0.37497</text>
<text x="1342.13" y="1067.58" font-size="18.5" text-anchor="end">1017.81</text>
<text x="1420.93" y="1067.58" font-size="18.5" text-anchor="end">101.184</text>
<text x="1499.74" y="1067.58" font-size="18.5" text-anchor="end">0.025</text>
<text x="1578.55" y="1067.58" font-size="18.5" text-anchor="end">22.1419</text>
<text x="1622.65" y="1067.58" font-size="18.5" text-anchor="middle">0</text>
<text x="1736.16" y="1067.58" font-size="18.5" text-anchor="end">0.56052</text>
<text x="1780.27" y="1067.58" font-size="18.5" text-anchor="middle">1.5</text>
<text x="1893.78" y="1067.58" font-size="18.5" text-anchor="end">0.31419</text>
<text x="1972.59" y="1067.58" font-size="18.5" text-anchor="end">0.17</text>
<text x="2051.39" y="1067.58" font-size="18.5" text-anchor="end">1.18018</text>
<text x="2130.20" y="1067.58" font-size="18.5" text-anchor="end">0.0012</text>
<text x="204.12" y="1100.21" font-size="18.5" text-anchor="middle">3896.03</text>
<text x="282.92" y="1100.21" font-size="18.5" text-anchor="middle">17.16</text>
<text x="440.54" y="1100.21" font-size="18.5" text-anchor="middle">4.38</text>
<text x="519.35" y="1100.21" font-size="18.5" text-anchor="middle">898.79</text>
<text x="632.86" y="1100.21" font-size="18.5" text-anchor="end">157.07</text>
<text x="711.67" y="1100.21" font-size="18.5" text-anchor="end">5.72223</text>
<text x="755.77" y="1100.21" font-size="18.5" text-anchor="middle">0.55</text>
<text x="869.28" y="1100.21" font-size="18.5" text-anchor="end">0.1831</text>
<text x="948.09" y="1100.21" font-size="18.5" text-anchor="end">40.0958</text>
<text x="992.19" y="1100.21" font-size="18.5" text-anchor="middle">1650</text>
<text x="1071.00" y="1100.21" font-size="18.5" text-anchor="middle">1.65</text>
<text x="1149.81" y="1100.21" font-size="18.5" text-anchor="middle">0.004</text>
<text x="1263.32" y="1100.21" font-size="18.5" text-anchor="end">0.61928</text>
<text x="1342.13" y="1100.21" font-size="18.5" text-anchor="end">1017.81</text>
<text x="1420.93" y="1100.21" font-size="18.5" text-anchor="end">101.184</text>
<text x="1499.74" y="1100.21" font-size="18.5" text-anchor="end">0.025</text>
<text x="1578.55" y="1100.21" font-size="18.5" text-anchor="end">21.8738</text>
<text x="1622.65" y="1100.21" font-size="18.5" text-anchor="middle">0</text>
<text x="1736.16" y="1100.21" font-size="18.5" text-anchor="end">0.71959</text>
<text x="1780.27" y="1100.21" font-size="18.5" text-anchor="middle">1.5</text>
<text x="1893.78" y="1100.21" font-size="18.5" text-anchor="end">0.51782</text>
<text x="1972.59" y="1100.21" font-size="18.5" text-anchor="end">0.17</text>
<text x="2051.39" y="1100.21" font-size="18.5" text-anchor="end">2.50149</text>
<text x="2130.20" y="1100.21" font-size="18.5" text-anchor="end">0.00255</text>
<text x="204.12" y="1132.84" font-size="18.5" text-anchor="middle">3895.78</text>
<text x="282.92" y="1132.84" font-size="18.5" text-anchor="middle">15.86</text>
<text x="361.73" y="1132.84" font-size="18.5" text-anchor="middle">14.2</text>
<text x="440.54" y="1132.84" font-size="18.5" text-anchor="middle">6.05</text>
<text x="519.35" y="1132.84" font-size="18.5" text-anchor="middle">653.27</text>
<text x="632.86" y="1132.84" font-size="18.5" text-anchor="end">113.93</text>
<text x="711.67" y="1132.84" font-size="18.5" text-anchor="end">5.73396</text>
<text x="755.77" y="1132.84" font-size="18.5" text-anchor="middle">0.72</text>
<text x="869.28" y="1132.84" font-size="18.5" text-anchor="end">0.25286</text>
<text x="948.09" y="1132.84" font-size="18.5" text-anchor="end">76.4642</text>
<text x="992.19" y="1132.84" font-size="18.5" text-anchor="middle">1650</text>
<text x="1071.00" y="1132.84" font-size="18.5" text-anchor="middle">1.65</text>
<text x="1149.81" y="1132.84" font-size="18.5" text-anchor="middle">0.004</text>
<text x="1263.32" y="1132.84" font-size="18.5" text-anchor="end">1.18099</text>
<text x="1342.13" y="1132.84" font-size="18.5" text-anchor="end">1017.81</text>
<text x="1420.93" y="1132.84" font-size="18.5" text-anchor="end">101.184</text>
<text x="1499.74" y="1132.84" font-size="18.5" text-anchor="end">0.025</text>
<text x="1578.55" y="1132.84" font-size="18.5" text-anchor="end">21.8789</text>
<text x="1622.65" y="1132.84" font-size="18.5" text-anchor="middle">0</text>
<text x="1736.16" y="1132.84" font-size="18.5" text-anchor="end">0.99375</text>
<text x="1780.27" y="1132.84" font-size="18.5" text-anchor="middle">1.5</text>
<text x="1893.78" y="1132.84" font-size="18.5" text-anchor="end">0.98754</text>
<text x="1972.59" y="1132.84" font-size="18.5" text-anchor="end">0.17</text>
<text x="2051.39" y="1132.84" font-size="18.5" text-anchor="end">6.34026</text>
<text x="2130.20" y="1132.84" font-size="18.5" text-anchor="end">0.00645</text>
</g>
<g font-family="'Liberation Sans', sans-serif" fill="#2a1f00" stroke="#2a1f00" stroke-width="0.45" transform="scale(0.66,1)">
<text x="141.45" y="448.59" font-size="24" text-anchor="middle">331</text>
<text x="141.45" y="481.22" font-size="24" text-anchor="middle">330</text>
<text x="141.45" y="513.85" font-size="24" text-anchor="middle">329</text>
<text x="141.45" y="546.48" font-size="24" text-anchor="middle">328</text>
<text x="141.45" y="579.11" font-size="24" text-anchor="middle">327.1</text>
<text x="141.45" y="611.74" font-size="24" text-anchor="middle">327</text>
<text x="141.45" y="644.37" font-size="24" text-anchor="middle">326.1</text>
<text x="141.45" y="677.00" font-size="24" text-anchor="middle">326</text>
<text x="141.45" y="709.63" font-size="24" text-anchor="middle">325.1</text>
<text x="141.45" y="742.26" font-size="24" text-anchor="middle">325</text>
<text x="141.45" y="774.89" font-size="24" text-anchor="middle">324.1</text>
<text x="141.45" y="807.52" font-size="24" text-anchor="middle">324</text>
<text x="141.45" y="840.15" font-size="24" text-anchor="middle">323</text>
<text x="141.45" y="872.78" font-size="24" text-anchor="middle">322</text>
<text x="141.45" y="905.41" font-size="24" text-anchor="middle">321</text>
<text x="141.45" y="938.04" font-size="24" text-anchor="middle">320</text>
<text x="141.45" y="970.67" font-size="24" text-anchor="middle">319</text>
<text x="141.45" y="1003.30" font-size="24" text-anchor="middle">318.1</text>
<text x="141.45" y="1035.93" font-size="24" text-anchor="middle">318</text>
<text x="141.45" y="1068.56" font-size="24" text-anchor="middle">317.2</text>
<text x="141.45" y="1101.19" font-size="24" text-anchor="middle">317.1</text>
<text x="141.45" y="1133.82" font-size="24" text-anchor="middle">317</text>
</g>
</g>
<g font-family="'Liberation Sans', sans-serif" fill="#000" font-style="italic">
<text x="805" y="1155" font-size="24.5" textLength="680" lengthAdjust="spacingAndGlyphs">Figura 31:Valore del trasporto solido totale nelle&#160; varie sezioni</text>
<text x="1163" y="2106.3" font-size="24" textLength="297" lengthAdjust="spacingAndGlyphs">Figura 32: Trasporto solido</text>
</g>
<text x="1464.5" y="2193.2" font-size="32" font-family="'Liberation Serif', serif" fill="#000">20</text>
<g id="smalltable">
<rect x="159.7" y="1366.0" width="599.3" height="33.299999999999955" fill="#fa0000"/>
<line x1="159.7" y1="1399.3" x2="759.0" y2="1399.3" stroke="#300000" stroke-width="2.5"/>
<line x1="159.7" y1="1428.10" x2="759.0" y2="1428.10" stroke="#111" stroke-width="2.2"/>
<line x1="159.7" y1="1456.90" x2="759.0" y2="1456.90" stroke="#5a5a5a" stroke-width="2.2"/>
<line x1="159.7" y1="1485.70" x2="759.0" y2="1485.70" stroke="#5a5a5a" stroke-width="2.2"/>
<line x1="159.7" y1="1514.50" x2="759.0" y2="1514.50" stroke="#5a5a5a" stroke-width="2.2"/>
<line x1="159.7" y1="1543.30" x2="759.0" y2="1543.30" stroke="#111" stroke-width="2.2"/>
<line x1="159.7" y1="1572.10" x2="759.0" y2="1572.10" stroke="#111" stroke-width="2.2"/>
<line x1="159.7" y1="1600.90" x2="759.0" y2="1600.90" stroke="#111" stroke-width="2.2"/>
<line x1="159.7" y1="1629.70" x2="759.0" y2="1629.70" stroke="#111" stroke-width="2.2"/>
<line x1="159.7" y1="1658.50" x2="759.0" y2="1658.50" stroke="#5a5a5a" stroke-width="2.2"/>
<line x1="159.7" y1="1687.30" x2="759.0" y2="1687.30" stroke="#5a5a5a" stroke-width="2.2"/>
<line x1="159.7" y1="1716.10" x2="759.0" y2="1716.10" stroke="#5a5a5a" stroke-width="2.2"/>
<line x1="159.7" y1="1744.90" x2="759.0" y2="1744.90" stroke="#111" stroke-width="2.2"/>
<line x1="159.7" y1="1773.70" x2="759.0" y2="1773.70" stroke="#111" stroke-width="2.2"/>
<line x1="159.7" y1="1802.50" x2="759.0" y2="1802.50" stroke="#111" stroke-width="2.2"/>
<line x1="159.7" y1="1831.30" x2="759.0" y2="1831.30" stroke="#111" stroke-width="2.2"/>
<line x1="159.7" y1="1860.10" x2="759.0" y2="1860.10" stroke="#5a5a5a" stroke-width="2.2"/>
<line x1="159.7" y1="1888.90" x2="759.0" y2="1888.90" stroke="#5a5a5a" stroke-width="2.2"/>
<line x1="159.7" y1="1917.70" x2="759.0" y2="1917.70" stroke="#5a5a5a" stroke-width="2.2"/>
<line x1="159.7" y1="1946.50" x2="759.0" y2="1946.50" stroke="#5a5a5a" stroke-width="2.2"/>
<line x1="159.7" y1="1975.30" x2="759.0" y2="1975.30" stroke="#111" stroke-width="2.2"/>
<line x1="159.7" y1="2004.10" x2="759.0" y2="2004.10" stroke="#111" stroke-width="2.2"/>
<line x1="159.7" y1="2032.90" x2="759.0" y2="2032.90" stroke="#111" stroke-width="2.2"/>
<line x1="159.7" y1="2061.70" x2="759.0" y2="2061.70" stroke="#111" stroke-width="2.2"/>
<line x1="159.70" y1="1366.0" x2="159.70" y2="2062.7" stroke="#b5b5b5" stroke-width="2.2"/>
<line x1="259.58" y1="1366.0" x2="259.58" y2="2062.7" stroke="#111" stroke-width="2.2"/>
<line x1="359.47" y1="1366.0" x2="359.47" y2="2062.7" stroke="#111" stroke-width="2.2"/>
<line x1="459.35" y1="1366.0" x2="459.35" y2="2062.7" stroke="#111" stroke-width="2.2"/>
<line x1="559.23" y1="1366.0" x2="559.23" y2="2062.7" stroke="#111" stroke-width="2.2"/>
<line x1="659.12" y1="1366.0" x2="659.12" y2="2062.7" stroke="#111" stroke-width="2.2"/>
<line x1="759.00" y1="1366.0" x2="759.00" y2="2062.7" stroke="#111" stroke-width="2.2"/>
<g font-family="'Liberation Sans', sans-serif" fill="#2a2a2a" stroke="#2a2a2a" stroke-width="0.5">
<text x="209.64" y="1390.00" font-size="17" text-anchor="middle" fill="#700000" stroke="#700000" stroke-width="0.3">Y</text>
<text x="309.52" y="1390.00" font-size="17" text-anchor="middle" fill="#700000" stroke="#700000" stroke-width="0.3">Q<tspan font-size="10" dy="3">t</tspan></text>
<text x="409.41" y="1390.00" font-size="17" text-anchor="middle" fill="#700000" stroke="#700000" stroke-width="0.3">Y</text>
<text x="509.29" y="1390.00" font-size="17" text-anchor="middle" fill="#700000" stroke="#700000" stroke-width="0.3">Q<tspan font-size="10" dy="3">t</tspan></text>
<text x="609.17" y="1390.00" font-size="17" text-anchor="middle" fill="#700000" stroke="#700000" stroke-width="0.3">Y</text>
<text x="709.06" y="1390.00" font-size="17" text-anchor="middle" fill="#700000" stroke="#700000" stroke-width="0.3">Q<tspan font-size="10" dy="3">t</tspan></text>
<text x="209.64" y="1421.32" font-size="17.0" text-anchor="middle" letter-spacing="1.5" dx="0.75">10.12</text>
<text x="209.64" y="1450.12" font-size="17.0" text-anchor="middle" letter-spacing="1.5" dx="0.75">10.27</text>
<text x="209.64" y="1478.92" font-size="17.0" text-anchor="middle" letter-spacing="1.5" dx="0.75">11.6</text>
<text x="209.64" y="1507.72" font-size="17.0" text-anchor="middle" letter-spacing="1.5" dx="0.75">13.07</text>
<text x="209.64" y="1536.52" font-size="17.0" text-anchor="middle" letter-spacing="1.5" dx="0.75">14.26</text>
<text x="209.64" y="1565.32" font-size="17.0" text-anchor="middle" letter-spacing="1.5" dx="0.75">15.35</text>
<text x="209.64" y="1594.12" font-size="17.0" text-anchor="middle" letter-spacing="1.5" dx="0.75">16.35</text>
<text x="209.64" y="1622.92" font-size="17.0" text-anchor="middle" letter-spacing="1.5" dx="0.75">17.18</text>
<text x="209.64" y="1651.72" font-size="17.0" text-anchor="middle" letter-spacing="1.5" dx="0.75">17.9</text>
<text x="209.64" y="1680.52" font-size="17.0" text-anchor="middle" letter-spacing="1.5" dx="0.75">18.54</text>
<text x="209.64" y="1709.32" font-size="17.0" text-anchor="middle" letter-spacing="1.5" dx="0.75">19.12</text>
<text x="209.64" y="1738.12" font-size="17.0" text-anchor="middle" letter-spacing="1.5" dx="0.75">19.54</text>
<text x="209.64" y="1766.92" font-size="17.0" text-anchor="middle" letter-spacing="1.5" dx="0.75">19.8</text>
<text x="209.64" y="1795.72" font-size="17.0" text-anchor="middle" letter-spacing="1.5" dx="0.75">19.95</text>
<text x="209.64" y="1824.52" font-size="17.0" text-anchor="middle" letter-spacing="1.5" dx="0.75">20</text>
<text x="209.64" y="1853.32" font-size="17.0" text-anchor="middle" letter-spacing="1.5" dx="0.75">19.96</text>
<text x="209.64" y="1882.12" font-size="17.0" text-anchor="middle" letter-spacing="1.5" dx="0.75">19.88</text>
<text x="209.64" y="1910.92" font-size="17.0" text-anchor="middle" letter-spacing="1.5" dx="0.75">19.74</text>
<text x="209.64" y="1939.72" font-size="17.0" text-anchor="middle" letter-spacing="1.5" dx="0.75">19.57</text>
<text x="209.64" y="1968.52" font-size="17.0" text-anchor="middle" letter-spacing="1.5" dx="0.75">19.36</text>
<text x="209.64" y="1997.32" font-size="17.0" text-anchor="middle" letter-spacing="1.5" dx="0.75">19.12</text>
<text x="209.64" y="2026.12" font-size="17.0" text-anchor="middle" letter-spacing="1.5" dx="0.75">18.86</text>
<text x="209.64" y="2054.92" font-size="17.0" text-anchor="middle" letter-spacing="1.5" dx="0.75">18.59</text>
<text x="309.52" y="1421.32" font-size="17.0" text-anchor="middle" letter-spacing="1.5" dx="0.75">0</text>
<text x="309.52" y="1450.12" font-size="17.0" text-anchor="middle" letter-spacing="1.5" dx="0.75">0</text>
<text x="309.52" y="1478.92" font-size="17.0" text-anchor="middle" letter-spacing="1.5" dx="0.75">0</text>
<text x="309.52" y="1507.72" font-size="17.0" text-anchor="middle" letter-spacing="1.5" dx="0.75">0.001112</text>
<text x="309.52" y="1536.52" font-size="17.0" text-anchor="middle" letter-spacing="1.5" dx="0.75">0.006494</text>
<text x="309.52" y="1565.32" font-size="17.0" text-anchor="middle" letter-spacing="1.5" dx="0.75">0.016187</text>
<text x="309.52" y="1594.12" font-size="17.0" text-anchor="middle" letter-spacing="1.5" dx="0.75">0.033075</text>
<text x="309.52" y="1622.92" font-size="17.0" text-anchor="middle" letter-spacing="1.5" dx="0.75">0.057114</text>
<text x="309.52" y="1651.72" font-size="17.0" text-anchor="middle" letter-spacing="1.5" dx="0.75">0.084337</text>
<text x="309.52" y="1680.52" font-size="17.0" text-anchor="middle" letter-spacing="1.5" dx="0.75">0.11456</text>
<text x="309.52" y="1709.32" font-size="17.0" text-anchor="middle" letter-spacing="1.5" dx="0.75">0.14945</text>
<text x="309.52" y="1738.12" font-size="17.0" text-anchor="middle" letter-spacing="1.5" dx="0.75">0.174928</text>
<text x="309.52" y="1766.92" font-size="17.0" text-anchor="middle" letter-spacing="1.5" dx="0.75">0.194336</text>
<text x="309.52" y="1795.72" font-size="17.0" text-anchor="middle" letter-spacing="1.5" dx="0.75">0.203033</text>
<text x="309.52" y="1824.52" font-size="17.0" text-anchor="middle" letter-spacing="1.5" dx="0.75">0.206534</text>
<text x="309.52" y="1853.32" font-size="17.0" text-anchor="middle" letter-spacing="1.5" dx="0.75">0.203146</text>
<text x="309.52" y="1882.12" font-size="17.0" text-anchor="middle" letter-spacing="1.5" dx="0.75">0.194801</text>
<text x="309.52" y="1910.92" font-size="17.0" text-anchor="middle" letter-spacing="1.5" dx="0.75">0.183384</text>
<text x="309.52" y="1939.72" font-size="17.0" text-anchor="middle" letter-spacing="1.5" dx="0.75">0.169371</text>
<text x="309.52" y="1968.52" font-size="17.0" text-anchor="middle" letter-spacing="1.5" dx="0.75">0.154566</text>
<text x="309.52" y="1997.32" font-size="17.0" text-anchor="middle" letter-spacing="1.5" dx="0.75">0.139249</text>
<text x="309.52" y="2026.12" font-size="17.0" text-anchor="middle" letter-spacing="1.5" dx="0.75">0.123718</text>
<text x="309.52" y="2054.92" font-size="17.0" text-anchor="middle" letter-spacing="1.5" dx="0.75">0.108231</text>
<text x="409.41" y="1421.32" font-size="17.0" text-anchor="middle" letter-spacing="1.5" dx="0.75">18.31</text>
<text x="409.41" y="1450.12" font-size="17.0" text-anchor="middle" letter-spacing="1.5" dx="0.75">18.03</text>
<text x="409.41" y="1478.92" font-size="17.0" text-anchor="middle" letter-spacing="1.5" dx="0.75">17.74</text>
<text x="409.41" y="1507.72" font-size="17.0" text-anchor="middle" letter-spacing="1.5" dx="0.75">17.44</text>
<text x="409.41" y="1536.52" font-size="17.0" text-anchor="middle" letter-spacing="1.5" dx="0.75">17.14</text>
<text x="409.41" y="1565.32" font-size="17.0" text-anchor="middle" letter-spacing="1.5" dx="0.75">16.83</text>
<text x="409.41" y="1594.12" font-size="17.0" text-anchor="middle" letter-spacing="1.5" dx="0.75">16.53</text>
<text x="409.41" y="1622.92" font-size="17.0" text-anchor="middle" letter-spacing="1.5" dx="0.75">16.21</text>
<text x="409.41" y="1651.72" font-size="17.0" text-anchor="middle" letter-spacing="1.5" dx="0.75">15.9</text>
<text x="409.41" y="1680.52" font-size="17.0" text-anchor="middle" letter-spacing="1.5" dx="0.75">15.56</text>
<text x="409.41" y="1709.32" font-size="17.0" text-anchor="middle" letter-spacing="1.5" dx="0.75">15.23</text>
<text x="409.41" y="1738.12" font-size="17.0" text-anchor="middle" letter-spacing="1.5" dx="0.75">14.9</text>
<text x="409.41" y="1766.92" font-size="17.0" text-anchor="middle" letter-spacing="1.5" dx="0.75">14.6</text>
<text x="409.41" y="1795.72" font-size="17.0" text-anchor="middle" letter-spacing="1.5" dx="0.75">14.32</text>
<text x="409.41" y="1824.52" font-size="17.0" text-anchor="middle" letter-spacing="1.5" dx="0.75">14.05</text>
<text x="409.41" y="1853.32" font-size="17.0" text-anchor="middle" letter-spacing="1.5" dx="0.75">13.79</text>
<text x="409.41" y="1882.12" font-size="17.0" text-anchor="middle" letter-spacing="1.5" dx="0.75">13.54</text>
<text x="409.41" y="1910.92" font-size="17.0" text-anchor="middle" letter-spacing="1.5" dx="0.75">13.3</text>
<text x="409.41" y="1939.72" font-size="17.0" text-anchor="middle" letter-spacing="1.5" dx="0.75">13.08</text>
<text x="409.41" y="1968.52" font-size="17.0" text-anchor="middle" letter-spacing="1.5" dx="0.75">12.86</text>
<text x="409.41" y="1997.32" font-size="17.0" text-anchor="middle" letter-spacing="1.5" dx="0.75">12.65</text>
<text x="409.41" y="2026.12" font-size="17.0" text-anchor="middle" letter-spacing="1.5" dx="0.75">12.44</text>
<text x="409.41" y="2054.92" font-size="17.0" text-anchor="middle" letter-spacing="1.5" dx="0.75">12.23</text>
<text x="509.29" y="1421.32" font-size="17.0" text-anchor="middle" letter-spacing="1.5" dx="0.75">0.094013</text>
<text x="509.29" y="1450.12" font-size="17.0" text-anchor="middle" letter-spacing="1.5" dx="0.75">0.081048</text>
<text x="509.29" y="1478.92" font-size="17.0" text-anchor="middle" letter-spacing="1.5" dx="0.75">0.069265</text>
<text x="509.29" y="1507.72" font-size="17.0" text-anchor="middle" letter-spacing="1.5" dx="0.75">0.058621</text>
<text x="509.29" y="1536.52" font-size="17.0" text-anchor="middle" letter-spacing="1.5" dx="0.75">0.048646</text>
<text x="509.29" y="1565.32" font-size="17.0" text-anchor="middle" letter-spacing="1.5" dx="0.75">0.039304</text>
<text x="509.29" y="1594.12" font-size="17.0" text-anchor="middle" letter-spacing="1.5" dx="0.75">0.03152</text>
<text x="509.29" y="1622.92" font-size="17.0" text-anchor="middle" letter-spacing="1.5" dx="0.75">0.025229</text>
<text x="509.29" y="1651.72" font-size="17.0" text-anchor="middle" letter-spacing="1.5" dx="0.75">0.019914</text>
<text x="509.29" y="1680.52" font-size="17.0" text-anchor="middle" letter-spacing="1.5" dx="0.75">0.015232</text>
<text x="509.29" y="1709.32" font-size="17.0" text-anchor="middle" letter-spacing="1.5" dx="0.75">0.011918</text>
<text x="509.29" y="1738.12" font-size="17.0" text-anchor="middle" letter-spacing="1.5" dx="0.75">0.009306</text>
<text x="509.29" y="1766.92" font-size="17.0" text-anchor="middle" letter-spacing="1.5" dx="0.75">0.007106</text>
<text x="509.29" y="1795.72" font-size="17.0" text-anchor="middle" letter-spacing="1.5" dx="0.75">0.005411</text>
<text x="509.29" y="1824.52" font-size="17.0" text-anchor="middle" letter-spacing="1.5" dx="0.75">0.003828</text>
<text x="509.29" y="1853.32" font-size="17.0" text-anchor="middle" letter-spacing="1.5" dx="0.75">0.002654</text>
<text x="509.29" y="1882.12" font-size="17.0" text-anchor="middle" letter-spacing="1.5" dx="0.75">0.001704</text>
<text x="509.29" y="1910.92" font-size="17.0" text-anchor="middle" letter-spacing="1.5" dx="0.75">0.000962</text>
<text x="509.29" y="1939.72" font-size="17.0" text-anchor="middle" letter-spacing="1.5" dx="0.75">0.00047</text>
<text x="509.29" y="1968.52" font-size="17.0" text-anchor="middle" letter-spacing="1.5" dx="0.75">0.00014</text>
<text x="509.29" y="1997.32" font-size="17.0" text-anchor="middle" letter-spacing="1.5" dx="0.75">4.5E-07</text>
<text x="509.29" y="2026.12" font-size="17.0" text-anchor="middle" letter-spacing="1.5" dx="0.75">0</text>
<text x="509.29" y="2054.92" font-size="17.0" text-anchor="middle" letter-spacing="1.5" dx="0.75">0</text>
<text x="609.17" y="1421.32" font-size="17.0" text-anchor="middle" letter-spacing="1.5" dx="0.75">12.01</text>
<text x="609.17" y="1450.12" font-size="17.0" text-anchor="middle" letter-spacing="1.5" dx="0.75">11.78</text>
<text x="609.17" y="1478.92" font-size="17.0" text-anchor="middle" letter-spacing="1.5" dx="0.75">11.57</text>
<text x="609.17" y="1507.72" font-size="17.0" text-anchor="middle" letter-spacing="1.5" dx="0.75">11.38</text>
<text x="609.17" y="1536.52" font-size="17.0" text-anchor="middle" letter-spacing="1.5" dx="0.75">11.19</text>
<text x="609.17" y="1565.32" font-size="17.0" text-anchor="middle" letter-spacing="1.5" dx="0.75">11.03</text>
<text x="609.17" y="1594.12" font-size="17.0" text-anchor="middle" letter-spacing="1.5" dx="0.75">10.87</text>
<text x="609.17" y="1622.92" font-size="17.0" text-anchor="middle" letter-spacing="1.5" dx="0.75">10.72</text>
<text x="609.17" y="1651.72" font-size="17.0" text-anchor="middle" letter-spacing="1.5" dx="0.75">10.58</text>
<text x="609.17" y="1680.52" font-size="17.0" text-anchor="middle" letter-spacing="1.5" dx="0.75">10.46</text>
<text x="609.17" y="1709.32" font-size="17.0" text-anchor="middle" letter-spacing="1.5" dx="0.75">10.33</text>
<text x="609.17" y="1738.12" font-size="17.0" text-anchor="middle" letter-spacing="1.5" dx="0.75">10.21</text>
<text x="609.17" y="1766.92" font-size="17.0" text-anchor="middle" letter-spacing="1.5" dx="0.75">10.1</text>
<text x="609.17" y="1795.72" font-size="17.0" text-anchor="middle" letter-spacing="1.5" dx="0.75">10</text>
<text x="609.17" y="1824.52" font-size="17.0" text-anchor="middle" letter-spacing="1.5" dx="0.75">9.91</text>
<text x="609.17" y="1853.32" font-size="17.0" text-anchor="middle" letter-spacing="1.5" dx="0.75">9.82</text>
<text x="609.17" y="1882.12" font-size="17.0" text-anchor="middle" letter-spacing="1.5" dx="0.75">9.77</text>
<text x="609.17" y="1910.92" font-size="17.0" text-anchor="middle" letter-spacing="1.5" dx="0.75">9.76</text>
<text x="609.17" y="1939.72" font-size="17.0" text-anchor="middle" letter-spacing="1.5" dx="0.75">9.76</text>
<text x="609.17" y="1968.52" font-size="17.0" text-anchor="middle" letter-spacing="1.5" dx="0.75">9.76</text>
<text x="609.17" y="1997.32" font-size="17.0" text-anchor="middle" letter-spacing="1.5" dx="0.75">9.76</text>
<text x="609.17" y="2026.12" font-size="17.0" text-anchor="middle" letter-spacing="1.5" dx="0.75">9.76</text>
<text x="609.17" y="2054.92" font-size="17.0" text-anchor="middle" letter-spacing="1.5" dx="0.75">9.76</text>
<text x="709.06" y="1421.32" font-size="17.0" text-anchor="middle" letter-spacing="1.5" dx="0.75">0</text>
<text x="709.06" y="1450.12" font-size="17.0" text-anchor="middle" letter-spacing="1.5" dx="0.75">0</text>
<text x="709.06" y="1478.92" font-size="17.0" text-anchor="middle" letter-spacing="1.5" dx="0.75">0</text>
<text x="709.06" y="1507.72" font-size="17.0" text-anchor="middle" letter-spacing="1.5" dx="0.75">0</text>
<text x="709.06" y="1536.52" font-size="17.0" text-anchor="middle" letter-spacing="1.5" dx="0.75">0</text>
<text x="709.06" y="1565.32" font-size="17.0" text-anchor="middle" letter-spacing="1.5" dx="0.75">0</text>
<text x="709.06" y="1594.12" font-size="17.0" text-anchor="middle" letter-spacing="1.5" dx="0.75">0</text>
<text x="709.06" y="1622.92" font-size="17.0" text-anchor="middle" letter-spacing="1.5" dx="0.75">0</text>
<text x="709.06" y="1651.72" font-size="17.0" text-anchor="middle" letter-spacing="1.5" dx="0.75">0</text>
<text x="709.06" y="1680.52" font-size="17.0" text-anchor="middle" letter-spacing="1.5" dx="0.75">0</text>
<text x="709.06" y="1709.32" font-size="17.0" text-anchor="middle" letter-spacing="1.5" dx="0.75">0</text>
<text x="709.06" y="1738.12" font-size="17.0" text-anchor="middle" letter-spacing="1.5" dx="0.75">0</text>
<text x="709.06" y="1766.92" font-size="17.0" text-anchor="middle" letter-spacing="1.5" dx="0.75">0</text>
<text x="709.06" y="1795.72" font-size="17.0" text-anchor="middle" letter-spacing="1.5" dx="0.75">0</text>
<text x="709.06" y="1824.52" font-size="17.0" text-anchor="middle" letter-spacing="1.5" dx="0.75">0</text>
<text x="709.06" y="1853.32" font-size="17.0" text-anchor="middle" letter-spacing="1.5" dx="0.75">0</text>
<text x="709.06" y="1882.12" font-size="17.0" text-anchor="middle" letter-spacing="1.5" dx="0.75">0</text>
<text x="709.06" y="1910.92" font-size="17.0" text-anchor="middle" letter-spacing="1.5" dx="0.75">0</text>
<text x="709.06" y="1939.72" font-size="17.0" text-anchor="middle" letter-spacing="1.5" dx="0.75">0</text>
<text x="709.06" y="1968.52" font-size="17.0" text-anchor="middle" letter-spacing="1.5" dx="0.75">0</text>
<text x="709.06" y="1997.32" font-size="17.0" text-anchor="middle" letter-spacing="1.5" dx="0.75">0</text>
<text x="709.06" y="2026.12" font-size="17.0" text-anchor="middle" letter-spacing="1.5" dx="0.75">0</text>
<text x="709.06" y="2054.92" font-size="17.0" text-anchor="middle" letter-spacing="1.5" dx="0.75">0</text>
</g>
</g>
<g id="chart">
<rect x="798.0" y="1425.8" width="803.2" height="636.0000000000002" fill="#fff" stroke="#858585" stroke-width="2"/>
<line x1="904.2" y1="1961.50" x2="1569.2" y2="1961.50" stroke="#8c8c8c" stroke-width="1.4"/>
<text x="889" y="1966.50" font-size="14.5" text-anchor="end" font-family="'Liberation Sans', sans-serif" fill="#222">0</text>
<line x1="904.2" y1="1909.84" x2="1569.2" y2="1909.84" stroke="#8c8c8c" stroke-width="1.4"/>
<text x="889" y="1914.84" font-size="14.5" text-anchor="end" font-family="'Liberation Sans', sans-serif" fill="#222">2.5</text>
<line x1="904.2" y1="1858.18" x2="1569.2" y2="1858.18" stroke="#8c8c8c" stroke-width="1.4"/>
<text x="889" y="1863.18" font-size="14.5" text-anchor="end" font-family="'Liberation Sans', sans-serif" fill="#222">5</text>
<line x1="904.2" y1="1806.52" x2="1569.2" y2="1806.52" stroke="#8c8c8c" stroke-width="1.4"/>
<text x="889" y="1811.52" font-size="14.5" text-anchor="end" font-family="'Liberation Sans', sans-serif" fill="#222">7.5</text>
<line x1="904.2" y1="1754.86" x2="1569.2" y2="1754.86" stroke="#8c8c8c" stroke-width="1.4"/>
<text x="889" y="1759.86" font-size="14.5" text-anchor="end" font-family="'Liberation Sans', sans-serif" fill="#222">10</text>
<line x1="904.2" y1="1703.20" x2="1569.2" y2="1703.20" stroke="#8c8c8c" stroke-width="1.4"/>
<text x="889" y="1708.20" font-size="14.5" text-anchor="end" font-family="'Liberation Sans', sans-serif" fill="#222">12.5</text>
<line x1="904.2" y1="1651.54" x2="1569.2" y2="1651.54" stroke="#8c8c8c" stroke-width="1.4"/>
<text x="889" y="1656.54" font-size="14.5" text-anchor="end" font-family="'Liberation Sans', sans-serif" fill="#222">15</text>
<line x1="904.2" y1="1599.88" x2="1569.2" y2="1599.88" stroke="#8c8c8c" stroke-width="1.4"/>
<text x="889" y="1604.88" font-size="14.5" text-anchor="end" font-family="'Liberation Sans', sans-serif" fill="#222">17.5</text>
<line x1="904.2" y1="1548.22" x2="1569.2" y2="1548.22" stroke="#8c8c8c" stroke-width="1.4"/>
<text x="889" y="1553.22" font-size="14.5" text-anchor="end" font-family="'Liberation Sans', sans-serif" fill="#222">20</text>
<line x1="904.2" y1="1496.56" x2="1569.2" y2="1496.56" stroke="#8c8c8c" stroke-width="1.4"/>
<text x="889" y="1501.56" font-size="14.5" text-anchor="end" font-family="'Liberation Sans', sans-serif" fill="#222">22.5</text>
<line x1="904.2" y1="1444.90" x2="1569.2" y2="1444.90" stroke="#8c8c8c" stroke-width="1.4"/>
<text x="889" y="1449.90" font-size="14.5" text-anchor="end" font-family="'Liberation Sans', sans-serif" fill="#222">25</text>
<line x1="904.2" y1="1444.9" x2="904.2" y2="1961.5" stroke="#8c8c8c" stroke-width="1.6"/>
<text x="904.20" y="1989" font-size="13.5" text-anchor="middle" font-family="'Liberation Sans', sans-serif" fill="#333">0</text>
<text x="1037.20" y="1989" font-size="13.5" text-anchor="middle" font-family="'Liberation Sans', sans-serif" fill="#333">0.05</text>
<text x="1170.20" y="1989" font-size="13.5" text-anchor="middle" font-family="'Liberation Sans', sans-serif" fill="#333">0.1</text>
<text x="1303.20" y="1989" font-size="13.5" text-anchor="middle" font-family="'Liberation Sans', sans-serif" fill="#333">0.15</text>
<text x="1436.20" y="1989" font-size="13.5" text-anchor="middle" font-family="'Liberation Sans', sans-serif" fill="#333">0.2</text>
<text x="1569.20" y="1989" font-size="13.5" text-anchor="middle" font-family="'Liberation Sans', sans-serif" fill="#333">0.25</text>
<line x1="904.20" y1="1706.30" x2="1454.29" y2="1510.61" stroke="#b85555" stroke-width="1.4"/>
<circle cx="904.20" cy="1752.38" r="3.6" fill="#14213a"/>
<circle cx="904.20" cy="1749.28" r="3.6" fill="#14213a"/>
<circle cx="904.20" cy="1721.80" r="3.6" fill="#14213a"/>
<circle cx="907.16" cy="1691.42" r="3.6" fill="#14213a"/>
<circle cx="921.47" cy="1666.83" r="3.6" fill="#14213a"/>
<circle cx="947.26" cy="1644.31" r="3.6" fill="#14213a"/>
<circle cx="992.18" cy="1623.64" r="3.6" fill="#14213a"/>
<circle cx="1056.12" cy="1606.49" r="3.6" fill="#14213a"/>
<circle cx="1128.54" cy="1591.61" r="3.6" fill="#14213a"/>
<circle cx="1208.93" cy="1578.39" r="3.6" fill="#14213a"/>
<circle cx="1301.74" cy="1566.40" r="3.6" fill="#14213a"/>
<circle cx="1369.51" cy="1557.73" r="3.6" fill="#14213a"/>
<circle cx="1421.13" cy="1552.35" r="3.6" fill="#14213a"/>
<circle cx="1444.27" cy="1549.25" r="3.6" fill="#14213a"/>
<circle cx="1453.58" cy="1548.22" r="3.6" fill="#14213a"/>
<circle cx="1444.57" cy="1549.05" r="3.6" fill="#14213a"/>
<circle cx="1422.37" cy="1550.70" r="3.6" fill="#14213a"/>
<circle cx="1392.00" cy="1553.59" r="3.6" fill="#14213a"/>
<circle cx="1354.73" cy="1557.11" r="3.6" fill="#14213a"/>
<circle cx="1315.35" cy="1561.44" r="3.6" fill="#14213a"/>
<circle cx="1274.60" cy="1566.40" r="3.6" fill="#14213a"/>
<circle cx="1233.29" cy="1571.78" r="3.6" fill="#14213a"/>
<circle cx="1192.09" cy="1577.36" r="3.6" fill="#14213a"/>
<circle cx="1154.27" cy="1583.14" r="3.6" fill="#14213a"/>
<circle cx="1119.79" cy="1588.93" r="3.6" fill="#14213a"/>
<circle cx="1088.44" cy="1594.92" r="3.6" fill="#14213a"/>
<circle cx="1060.13" cy="1601.12" r="3.6" fill="#14213a"/>
<circle cx="1033.60" cy="1607.32" r="3.6" fill="#14213a"/>
<circle cx="1008.75" cy="1613.72" r="3.6" fill="#14213a"/>
<circle cx="988.04" cy="1619.92" r="3.6" fill="#14213a"/>
<circle cx="971.31" cy="1626.54" r="3.6" fill="#14213a"/>
<circle cx="957.17" cy="1632.94" r="3.6" fill="#14213a"/>
<circle cx="944.72" cy="1639.97" r="3.6" fill="#14213a"/>
<circle cx="935.90" cy="1646.79" r="3.6" fill="#14213a"/>
<circle cx="928.95" cy="1653.61" r="3.6" fill="#14213a"/>
<circle cx="923.10" cy="1659.81" r="3.6" fill="#14213a"/>
<circle cx="918.59" cy="1665.59" r="3.6" fill="#14213a"/>
<circle cx="914.38" cy="1671.17" r="3.6" fill="#14213a"/>
<circle cx="911.26" cy="1676.54" r="3.6" fill="#14213a"/>
<circle cx="908.73" cy="1681.71" r="3.6" fill="#14213a"/>
<circle cx="906.76" cy="1686.67" r="3.6" fill="#14213a"/>
<circle cx="905.45" cy="1691.21" r="3.6" fill="#14213a"/>
<circle cx="904.57" cy="1695.76" r="3.6" fill="#14213a"/>
<circle cx="904.20" cy="1700.10" r="3.6" fill="#14213a"/>
<circle cx="904.20" cy="1704.44" r="3.6" fill="#14213a"/>
<circle cx="904.20" cy="1708.78" r="3.6" fill="#14213a"/>
<circle cx="904.20" cy="1713.33" r="3.6" fill="#14213a"/>
<circle cx="904.20" cy="1718.08" r="3.6" fill="#14213a"/>
<circle cx="904.20" cy="1722.42" r="3.6" fill="#14213a"/>
<circle cx="904.20" cy="1726.34" r="3.6" fill="#14213a"/>
<circle cx="904.20" cy="1730.27" r="3.6" fill="#14213a"/>
<circle cx="904.20" cy="1733.58" r="3.6" fill="#14213a"/>
<circle cx="904.20" cy="1736.88" r="3.6" fill="#14213a"/>
<circle cx="904.20" cy="1739.98" r="3.6" fill="#14213a"/>
<circle cx="904.20" cy="1742.87" r="3.6" fill="#14213a"/>
<circle cx="904.20" cy="1745.35" r="3.6" fill="#14213a"/>
<circle cx="904.20" cy="1748.04" r="3.6" fill="#14213a"/>
<circle cx="904.20" cy="1750.52" r="3.6" fill="#14213a"/>
<circle cx="904.20" cy="1752.79" r="3.6" fill="#14213a"/>
<circle cx="904.20" cy="1754.86" r="3.6" fill="#14213a"/>
<circle cx="904.20" cy="1756.72" r="3.6" fill="#14213a"/>
<circle cx="904.20" cy="1758.58" r="3.6" fill="#14213a"/>
<circle cx="904.20" cy="1759.61" r="3.6" fill="#14213a"/>
<circle cx="904.20" cy="1759.82" r="3.6" fill="#14213a"/>
<circle cx="904.20" cy="1759.82" r="3.6" fill="#14213a"/>
<circle cx="904.20" cy="1759.82" r="3.6" fill="#14213a"/>
<circle cx="904.20" cy="1759.82" r="3.6" fill="#14213a"/>
<circle cx="904.20" cy="1759.82" r="3.6" fill="#14213a"/>
<circle cx="904.20" cy="1759.82" r="3.6" fill="#14213a"/>
<text transform="translate(844,1733.5) rotate(-90)" font-size="28" font-weight="bold" text-anchor="middle" font-family="'Liberation Sans', sans-serif" fill="#000" textLength="75" lengthAdjust="spacingAndGlyphs">Y [m]</text>
<text x="1179.5" y="2031" font-size="31" font-weight="bold" font-family="'Liberation Sans', sans-serif" fill="#000" textLength="112.5" lengthAdjust="spacingAndGlyphs">Q<tspan font-size="18" dy="6">t</tspan><tspan dy="-6"> [m</tspan><tspan font-size="18" dy="-12">3</tspan><tspan dy="12">/s]</tspan></text>
</g>
</svg></body></html>
